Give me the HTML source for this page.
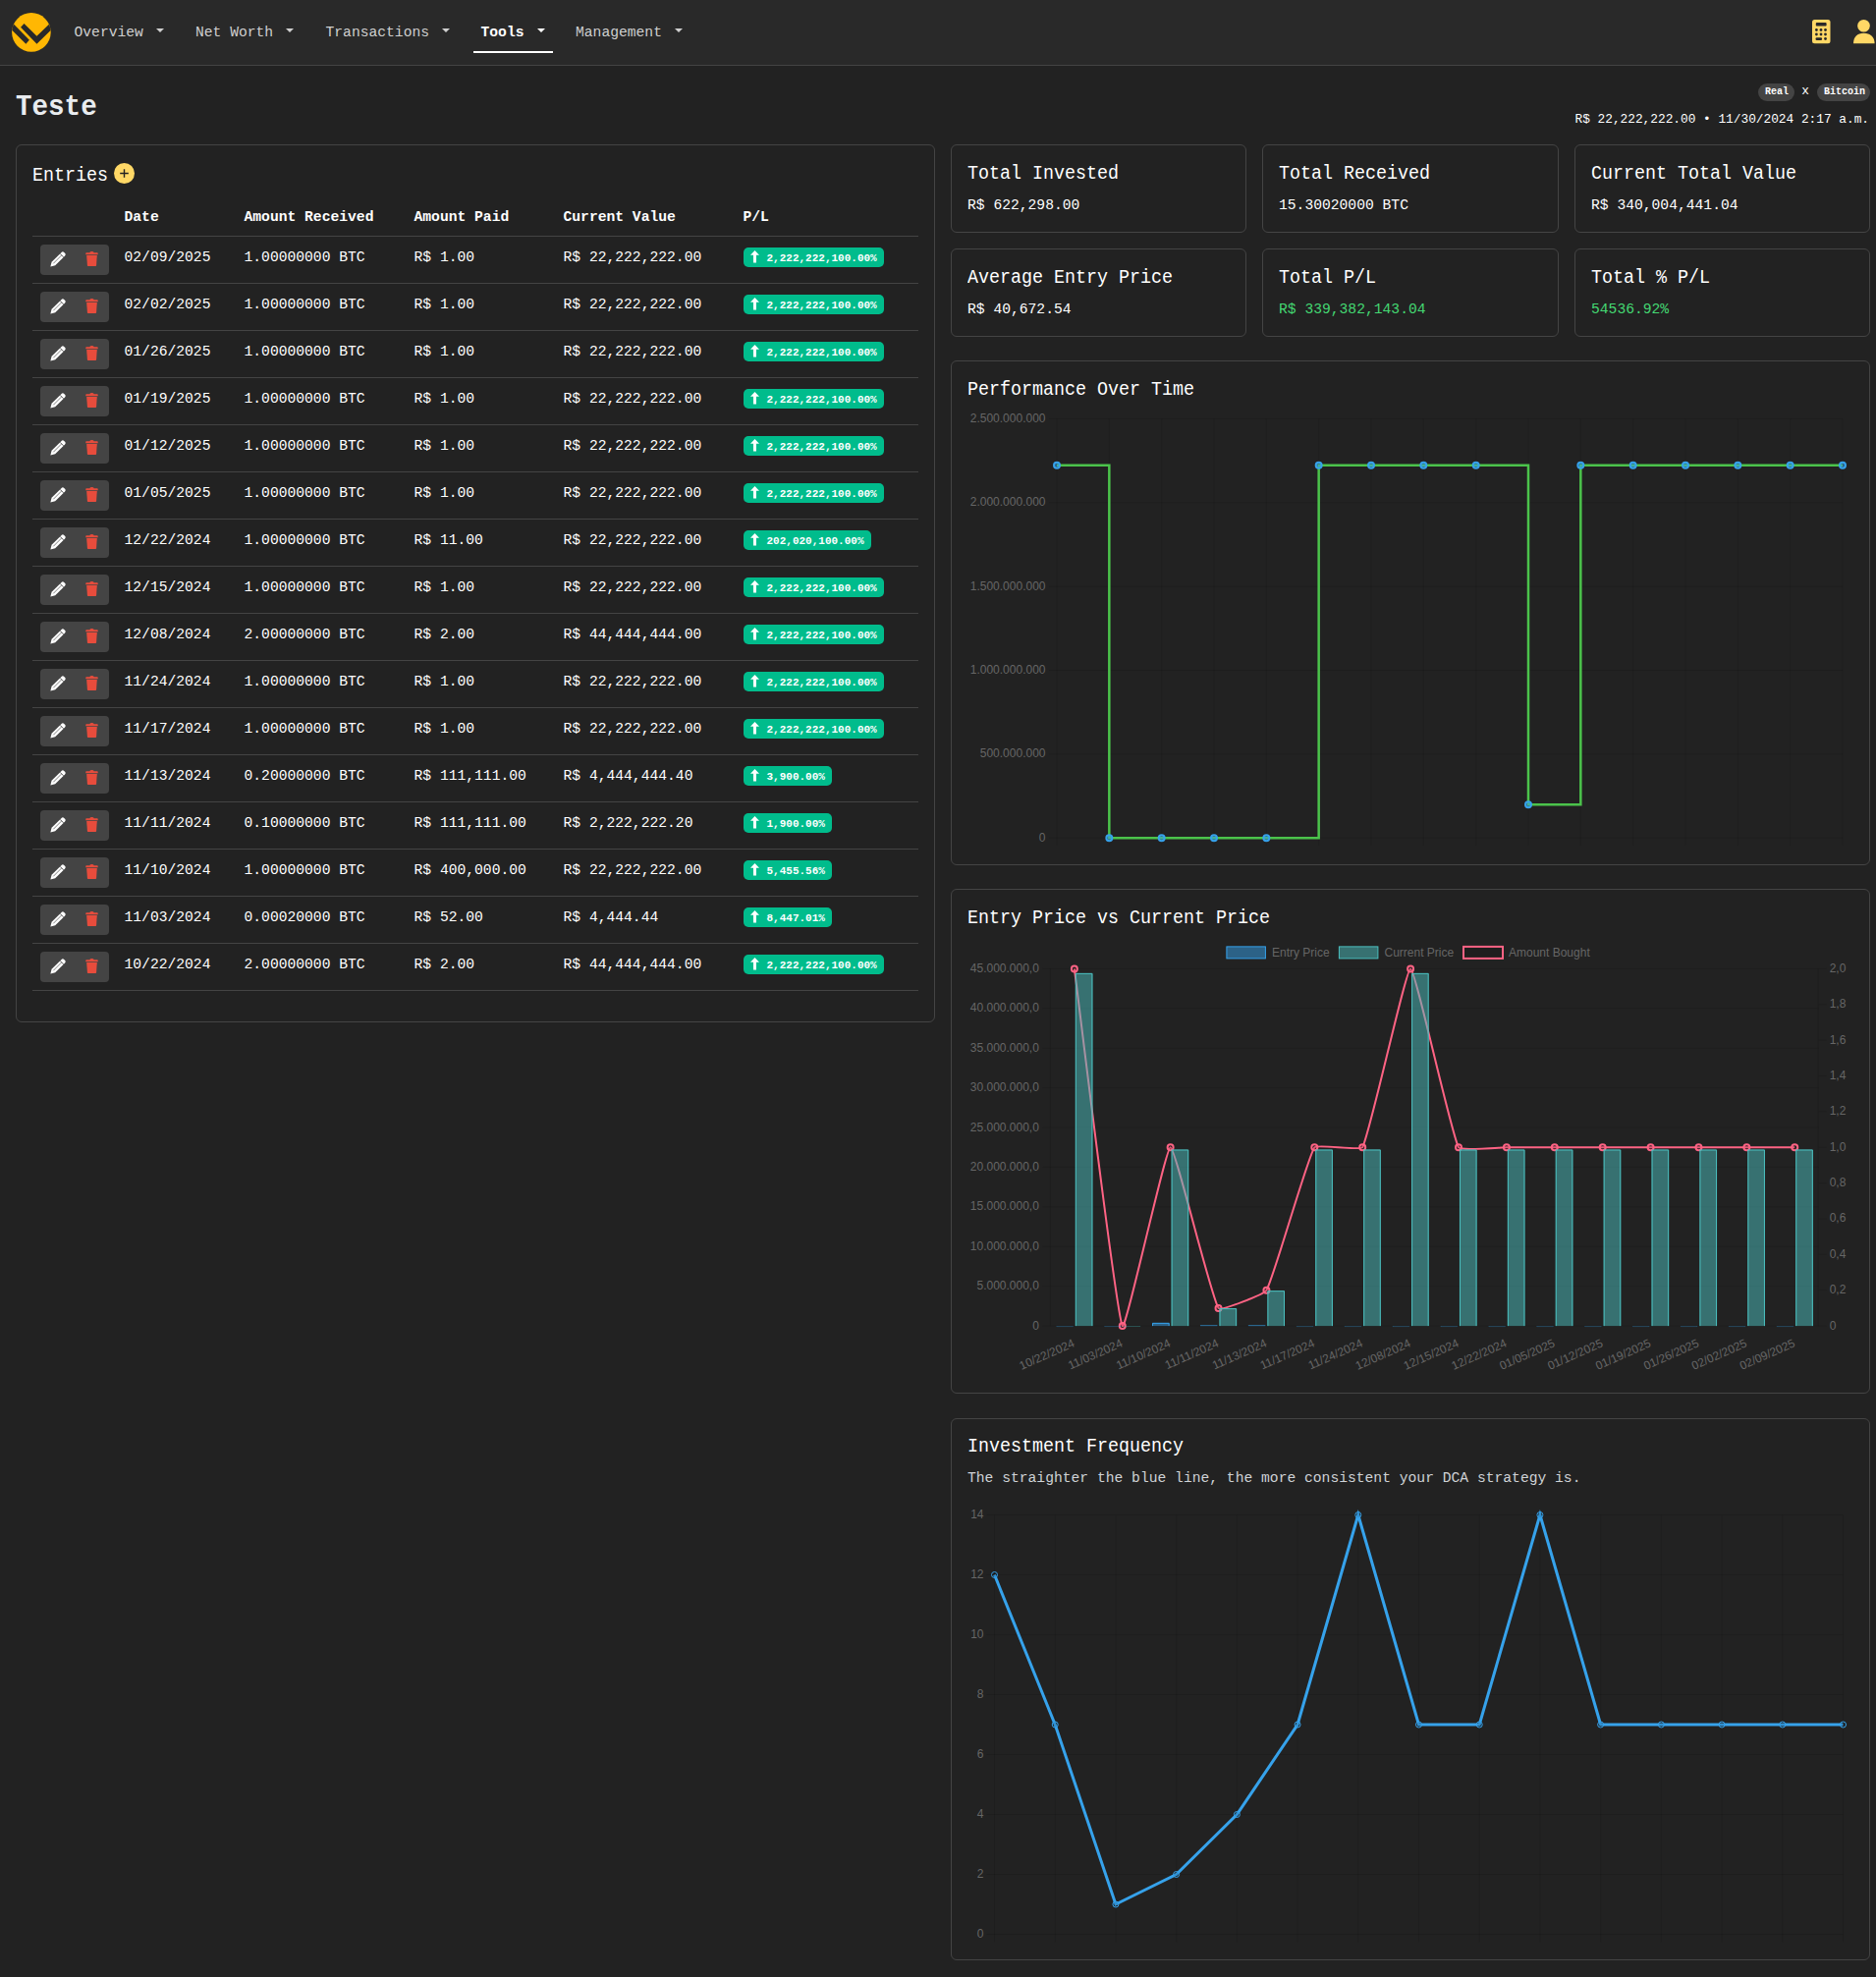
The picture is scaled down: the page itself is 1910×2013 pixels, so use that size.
<!DOCTYPE html>
<html><head><meta charset="utf-8"><title>DCA</title>
<style>
html,body{margin:0;padding:0;background:#222;width:1910px;height:2013px;overflow:hidden;}
body{position:relative;font-family:'Liberation Mono', monospace;}
.t{position:absolute;white-space:pre;}
</style></head><body>
<div style="position:absolute;left:0px;top:0px;width:1910px;height:66px;background:#292929;"></div><div style="position:absolute;left:0px;top:66px;width:1910px;height:1px;background:#444;"></div><svg style="position:absolute;left:8px;top:9px" width="50" height="48" viewBox="0 0 50 48">
<defs><clipPath id="lc"><circle cx="23.9" cy="23.9" r="19.8"/></clipPath></defs>
<circle cx="23.9" cy="23.9" r="19.8" fill="#ffb703"/>
<g clip-path="url(#lc)" fill="#292929">
<polygon points="0,9.45 21.86,31.85 18.39,35.85 -2,15.46"/>
<polygon points="16.52,15.06 29.45,27.72 48,9.76 48,17.69 29.45,35.71 13.06,18.66"/>
</g></svg><div class="t" style="left:75.50px;top:25.76px;font-size:14.67px;line-height:14.67px;color:#cfcfcf;font-family:'Liberation Mono', monospace;">Overview</div><div style="position:absolute;left:159px;top:29px;width:0px;height:0px;border-left:4px solid transparent;border-right:4px solid transparent;border-top:4.5px solid #cfcfcf;"></div><div class="t" style="left:199.00px;top:25.76px;font-size:14.67px;line-height:14.67px;color:#cfcfcf;font-family:'Liberation Mono', monospace;">Net Worth</div><div style="position:absolute;left:291px;top:29px;width:0px;height:0px;border-left:4px solid transparent;border-right:4px solid transparent;border-top:4.5px solid #cfcfcf;"></div><div class="t" style="left:331.50px;top:25.76px;font-size:14.67px;line-height:14.67px;color:#cfcfcf;font-family:'Liberation Mono', monospace;">Transactions</div><div style="position:absolute;left:450px;top:29px;width:0px;height:0px;border-left:4px solid transparent;border-right:4px solid transparent;border-top:4.5px solid #cfcfcf;"></div><div class="t" style="left:586.00px;top:25.76px;font-size:14.67px;line-height:14.67px;color:#cfcfcf;font-family:'Liberation Mono', monospace;">Management</div><div style="position:absolute;left:687px;top:29px;width:0px;height:0px;border-left:4px solid transparent;border-right:4px solid transparent;border-top:4.5px solid #cfcfcf;"></div><div class="t" style="left:489.50px;top:25.76px;font-size:14.67px;line-height:14.67px;color:#fff;font-weight:bold;font-family:'Liberation Mono', monospace;">Tools</div><div style="position:absolute;left:547px;top:29px;width:0px;height:0px;border-left:4px solid transparent;border-right:4px solid transparent;border-top:4.5px solid #fff;"></div><div style="position:absolute;left:482px;top:52px;width:81px;height:2px;background:#fff;"></div><svg style="position:absolute;left:1845px;top:20px" width="19" height="25" viewBox="0 0 19 25">
<rect x="0" y="0" width="18.5" height="24.3" rx="2.5" fill="#ffd866"/>
<rect x="3.8" y="3.1" width="10.8" height="3.5" rx="0.8" fill="#292929"/>
<g fill="#292929">
<circle cx="4.4" cy="10.5" r="1.4"/><circle cx="9" cy="10.5" r="1.4"/><circle cx="13.5" cy="10.5" r="1.4"/>
<circle cx="4.4" cy="15" r="1.4"/><circle cx="9" cy="15" r="1.4"/><circle cx="13.5" cy="15" r="1.4"/>
<rect x="3.5" y="18.2" width="6.6" height="2.8" rx="1.2"/><circle cx="13.5" cy="19.5" r="1.4"/>
</g></svg><svg style="position:absolute;left:1886px;top:19px" width="24" height="26" viewBox="0 0 24 26">
<circle cx="11.5" cy="7.3" r="6.3" fill="#ffd866"/>
<path d="M1 25.2 C1 18.5 5 14.7 11.5 14.7 C18 14.7 22.6 18.5 22.6 25.2 Z" fill="#ffd866"/>
</svg><div class="t" style="left:15.80px;top:94.78px;font-size:29px;line-height:29px;color:#e9ecef;font-weight:bold;font-family:'Liberation Mono', monospace;transform:scaleX(0.95);transform-origin:0 0;">Teste</div><div style="position:absolute;left:1790px;top:85px;width:37px;height:18px;background:#444;border-radius:9px;"></div><div class="t" style="left:1797.00px;top:89.34px;font-size:10px;line-height:10px;color:#fff;font-weight:bold;font-family:'Liberation Mono', monospace;">Real</div><div class="t" style="left:1834.30px;top:87.19px;font-size:12.8px;line-height:12.8px;color:#fff;font-family:'Liberation Mono', monospace;">x</div><div style="position:absolute;left:1850px;top:85px;width:54px;height:18px;background:#444;border-radius:9px;"></div><div class="t" style="left:1857.00px;top:89.34px;font-size:10px;line-height:10px;color:#fff;font-weight:bold;font-family:'Liberation Mono', monospace;">Bitcoin</div><div class="t" style="left:1603.50px;top:115.89px;font-size:12.8px;line-height:12.8px;color:#fff;font-family:'Liberation Mono', monospace;">R$ 22,222,222.00 &bull; 11/30/2024 2:17 a.m.</div><div style="position:absolute;left:16px;top:147px;width:934px;height:892px;border:1px solid #444;border-radius:6px;box-sizing:content-box;"></div><div class="t" style="left:33.00px;top:170.06px;font-size:19.5px;line-height:19.5px;color:#fff;font-family:'Liberation Mono', monospace;transform:scaleX(0.94);transform-origin:0 0;">Entries</div><svg style="position:absolute;left:116px;top:166px" width="22" height="22" viewBox="0 0 22 22">
<circle cx="10.5" cy="10.5" r="10.5" fill="#ffd866"/>
<path d="M10.5 6.2 V14.8 M6.2 10.5 H14.8" stroke="#222" stroke-width="1.4"/>
</svg><div class="t" style="left:126.50px;top:214.06px;font-size:14.67px;line-height:14.67px;color:#fff;font-weight:bold;font-family:'Liberation Mono', monospace;">Date</div><div class="t" style="left:248.50px;top:214.06px;font-size:14.67px;line-height:14.67px;color:#fff;font-weight:bold;font-family:'Liberation Mono', monospace;">Amount Received</div><div class="t" style="left:421.50px;top:214.06px;font-size:14.67px;line-height:14.67px;color:#fff;font-weight:bold;font-family:'Liberation Mono', monospace;">Amount Paid</div><div class="t" style="left:573.50px;top:214.06px;font-size:14.67px;line-height:14.67px;color:#fff;font-weight:bold;font-family:'Liberation Mono', monospace;">Current Value</div><div class="t" style="left:756.50px;top:214.06px;font-size:14.67px;line-height:14.67px;color:#fff;font-weight:bold;font-family:'Liberation Mono', monospace;">P/L</div><div style="position:absolute;left:33px;top:240px;width:902px;height:1px;background:#444;"></div><div style="position:absolute;left:41px;top:249px;width:70px;height:31px;background:#444;border-radius:4px;"></div><svg style="position:absolute;left:50.5px;top:256px" width="16" height="16" viewBox="0 0 16 16"><path d="M11.6 0.9 a1.9 1.9 0 0 1 2.6 0 l0.9 0.9 a1.9 1.9 0 0 1 0 2.6 L5.2 14.3 L0.4 15.5 L1.6 10.7 Z" fill="#fff"/><path d="M10.2 2.4 L13.6 5.8" stroke="#444" stroke-width="0.9"/><path d="M3.3 12.3 L11.4 4.2" stroke="#444" stroke-width="0.9" opacity="0.75"/></svg><svg style="position:absolute;left:86.8px;top:256px" width="13" height="16" viewBox="0 0 13 16"><path d="M0.3 1.9 Q0.3 1.2 1 1.2 L4.3 1.2 Q4.6 0 6.5 0 Q8.4 0 8.7 1.2 L12 1.2 Q12.7 1.2 12.7 1.9 L12.7 3.2 L0.3 3.2 Z" fill="#e74c3c"/><path d="M1.2 4.1 L11.8 4.1 L11.1 14.2 Q11 14.9 10.3 14.9 L2.7 14.9 Q2 14.9 1.9 14.2 Z" fill="#e74c3c"/></svg><div class="t" style="left:126.50px;top:255.36px;font-size:14.67px;line-height:14.67px;color:#fff;font-family:'Liberation Mono', monospace;">02/09/2025</div><div class="t" style="left:248.50px;top:255.36px;font-size:14.67px;line-height:14.67px;color:#fff;font-family:'Liberation Mono', monospace;">1.00000000 BTC</div><div class="t" style="left:421.50px;top:255.36px;font-size:14.67px;line-height:14.67px;color:#fff;font-family:'Liberation Mono', monospace;">R$ 1.00</div><div class="t" style="left:573.50px;top:255.36px;font-size:14.67px;line-height:14.67px;color:#fff;font-family:'Liberation Mono', monospace;">R$ 22,222,222.00</div><div style="position:absolute;left:757px;top:252px;width:143px;height:20px;background:#00bc8c;border-radius:5px;"></div><svg style="position:absolute;left:764px;top:255px" width="10" height="13" viewBox="0 0 10 13"><path d="M4.5 0 L9 4.8 L6 4.8 L6 12.5 L3 12.5 L3 4.8 L0 4.8 Z" fill="#fff"/></svg><div class="t" style="left:780.50px;top:257.57px;font-size:11px;line-height:11px;color:#fff;font-weight:bold;font-family:'Liberation Mono', monospace;">2,222,222,100.00%</div><div style="position:absolute;left:33px;top:288px;width:902px;height:1px;background:#444;"></div><div style="position:absolute;left:41px;top:297px;width:70px;height:31px;background:#444;border-radius:4px;"></div><svg style="position:absolute;left:50.5px;top:304px" width="16" height="16" viewBox="0 0 16 16"><path d="M11.6 0.9 a1.9 1.9 0 0 1 2.6 0 l0.9 0.9 a1.9 1.9 0 0 1 0 2.6 L5.2 14.3 L0.4 15.5 L1.6 10.7 Z" fill="#fff"/><path d="M10.2 2.4 L13.6 5.8" stroke="#444" stroke-width="0.9"/><path d="M3.3 12.3 L11.4 4.2" stroke="#444" stroke-width="0.9" opacity="0.75"/></svg><svg style="position:absolute;left:86.8px;top:304px" width="13" height="16" viewBox="0 0 13 16"><path d="M0.3 1.9 Q0.3 1.2 1 1.2 L4.3 1.2 Q4.6 0 6.5 0 Q8.4 0 8.7 1.2 L12 1.2 Q12.7 1.2 12.7 1.9 L12.7 3.2 L0.3 3.2 Z" fill="#e74c3c"/><path d="M1.2 4.1 L11.8 4.1 L11.1 14.2 Q11 14.9 10.3 14.9 L2.7 14.9 Q2 14.9 1.9 14.2 Z" fill="#e74c3c"/></svg><div class="t" style="left:126.50px;top:303.36px;font-size:14.67px;line-height:14.67px;color:#fff;font-family:'Liberation Mono', monospace;">02/02/2025</div><div class="t" style="left:248.50px;top:303.36px;font-size:14.67px;line-height:14.67px;color:#fff;font-family:'Liberation Mono', monospace;">1.00000000 BTC</div><div class="t" style="left:421.50px;top:303.36px;font-size:14.67px;line-height:14.67px;color:#fff;font-family:'Liberation Mono', monospace;">R$ 1.00</div><div class="t" style="left:573.50px;top:303.36px;font-size:14.67px;line-height:14.67px;color:#fff;font-family:'Liberation Mono', monospace;">R$ 22,222,222.00</div><div style="position:absolute;left:757px;top:300px;width:143px;height:20px;background:#00bc8c;border-radius:5px;"></div><svg style="position:absolute;left:764px;top:303px" width="10" height="13" viewBox="0 0 10 13"><path d="M4.5 0 L9 4.8 L6 4.8 L6 12.5 L3 12.5 L3 4.8 L0 4.8 Z" fill="#fff"/></svg><div class="t" style="left:780.50px;top:305.57px;font-size:11px;line-height:11px;color:#fff;font-weight:bold;font-family:'Liberation Mono', monospace;">2,222,222,100.00%</div><div style="position:absolute;left:33px;top:336px;width:902px;height:1px;background:#444;"></div><div style="position:absolute;left:41px;top:345px;width:70px;height:31px;background:#444;border-radius:4px;"></div><svg style="position:absolute;left:50.5px;top:352px" width="16" height="16" viewBox="0 0 16 16"><path d="M11.6 0.9 a1.9 1.9 0 0 1 2.6 0 l0.9 0.9 a1.9 1.9 0 0 1 0 2.6 L5.2 14.3 L0.4 15.5 L1.6 10.7 Z" fill="#fff"/><path d="M10.2 2.4 L13.6 5.8" stroke="#444" stroke-width="0.9"/><path d="M3.3 12.3 L11.4 4.2" stroke="#444" stroke-width="0.9" opacity="0.75"/></svg><svg style="position:absolute;left:86.8px;top:352px" width="13" height="16" viewBox="0 0 13 16"><path d="M0.3 1.9 Q0.3 1.2 1 1.2 L4.3 1.2 Q4.6 0 6.5 0 Q8.4 0 8.7 1.2 L12 1.2 Q12.7 1.2 12.7 1.9 L12.7 3.2 L0.3 3.2 Z" fill="#e74c3c"/><path d="M1.2 4.1 L11.8 4.1 L11.1 14.2 Q11 14.9 10.3 14.9 L2.7 14.9 Q2 14.9 1.9 14.2 Z" fill="#e74c3c"/></svg><div class="t" style="left:126.50px;top:351.36px;font-size:14.67px;line-height:14.67px;color:#fff;font-family:'Liberation Mono', monospace;">01/26/2025</div><div class="t" style="left:248.50px;top:351.36px;font-size:14.67px;line-height:14.67px;color:#fff;font-family:'Liberation Mono', monospace;">1.00000000 BTC</div><div class="t" style="left:421.50px;top:351.36px;font-size:14.67px;line-height:14.67px;color:#fff;font-family:'Liberation Mono', monospace;">R$ 1.00</div><div class="t" style="left:573.50px;top:351.36px;font-size:14.67px;line-height:14.67px;color:#fff;font-family:'Liberation Mono', monospace;">R$ 22,222,222.00</div><div style="position:absolute;left:757px;top:348px;width:143px;height:20px;background:#00bc8c;border-radius:5px;"></div><svg style="position:absolute;left:764px;top:351px" width="10" height="13" viewBox="0 0 10 13"><path d="M4.5 0 L9 4.8 L6 4.8 L6 12.5 L3 12.5 L3 4.8 L0 4.8 Z" fill="#fff"/></svg><div class="t" style="left:780.50px;top:353.57px;font-size:11px;line-height:11px;color:#fff;font-weight:bold;font-family:'Liberation Mono', monospace;">2,222,222,100.00%</div><div style="position:absolute;left:33px;top:384px;width:902px;height:1px;background:#444;"></div><div style="position:absolute;left:41px;top:393px;width:70px;height:31px;background:#444;border-radius:4px;"></div><svg style="position:absolute;left:50.5px;top:400px" width="16" height="16" viewBox="0 0 16 16"><path d="M11.6 0.9 a1.9 1.9 0 0 1 2.6 0 l0.9 0.9 a1.9 1.9 0 0 1 0 2.6 L5.2 14.3 L0.4 15.5 L1.6 10.7 Z" fill="#fff"/><path d="M10.2 2.4 L13.6 5.8" stroke="#444" stroke-width="0.9"/><path d="M3.3 12.3 L11.4 4.2" stroke="#444" stroke-width="0.9" opacity="0.75"/></svg><svg style="position:absolute;left:86.8px;top:400px" width="13" height="16" viewBox="0 0 13 16"><path d="M0.3 1.9 Q0.3 1.2 1 1.2 L4.3 1.2 Q4.6 0 6.5 0 Q8.4 0 8.7 1.2 L12 1.2 Q12.7 1.2 12.7 1.9 L12.7 3.2 L0.3 3.2 Z" fill="#e74c3c"/><path d="M1.2 4.1 L11.8 4.1 L11.1 14.2 Q11 14.9 10.3 14.9 L2.7 14.9 Q2 14.9 1.9 14.2 Z" fill="#e74c3c"/></svg><div class="t" style="left:126.50px;top:399.36px;font-size:14.67px;line-height:14.67px;color:#fff;font-family:'Liberation Mono', monospace;">01/19/2025</div><div class="t" style="left:248.50px;top:399.36px;font-size:14.67px;line-height:14.67px;color:#fff;font-family:'Liberation Mono', monospace;">1.00000000 BTC</div><div class="t" style="left:421.50px;top:399.36px;font-size:14.67px;line-height:14.67px;color:#fff;font-family:'Liberation Mono', monospace;">R$ 1.00</div><div class="t" style="left:573.50px;top:399.36px;font-size:14.67px;line-height:14.67px;color:#fff;font-family:'Liberation Mono', monospace;">R$ 22,222,222.00</div><div style="position:absolute;left:757px;top:396px;width:143px;height:20px;background:#00bc8c;border-radius:5px;"></div><svg style="position:absolute;left:764px;top:399px" width="10" height="13" viewBox="0 0 10 13"><path d="M4.5 0 L9 4.8 L6 4.8 L6 12.5 L3 12.5 L3 4.8 L0 4.8 Z" fill="#fff"/></svg><div class="t" style="left:780.50px;top:401.57px;font-size:11px;line-height:11px;color:#fff;font-weight:bold;font-family:'Liberation Mono', monospace;">2,222,222,100.00%</div><div style="position:absolute;left:33px;top:432px;width:902px;height:1px;background:#444;"></div><div style="position:absolute;left:41px;top:441px;width:70px;height:31px;background:#444;border-radius:4px;"></div><svg style="position:absolute;left:50.5px;top:448px" width="16" height="16" viewBox="0 0 16 16"><path d="M11.6 0.9 a1.9 1.9 0 0 1 2.6 0 l0.9 0.9 a1.9 1.9 0 0 1 0 2.6 L5.2 14.3 L0.4 15.5 L1.6 10.7 Z" fill="#fff"/><path d="M10.2 2.4 L13.6 5.8" stroke="#444" stroke-width="0.9"/><path d="M3.3 12.3 L11.4 4.2" stroke="#444" stroke-width="0.9" opacity="0.75"/></svg><svg style="position:absolute;left:86.8px;top:448px" width="13" height="16" viewBox="0 0 13 16"><path d="M0.3 1.9 Q0.3 1.2 1 1.2 L4.3 1.2 Q4.6 0 6.5 0 Q8.4 0 8.7 1.2 L12 1.2 Q12.7 1.2 12.7 1.9 L12.7 3.2 L0.3 3.2 Z" fill="#e74c3c"/><path d="M1.2 4.1 L11.8 4.1 L11.1 14.2 Q11 14.9 10.3 14.9 L2.7 14.9 Q2 14.9 1.9 14.2 Z" fill="#e74c3c"/></svg><div class="t" style="left:126.50px;top:447.36px;font-size:14.67px;line-height:14.67px;color:#fff;font-family:'Liberation Mono', monospace;">01/12/2025</div><div class="t" style="left:248.50px;top:447.36px;font-size:14.67px;line-height:14.67px;color:#fff;font-family:'Liberation Mono', monospace;">1.00000000 BTC</div><div class="t" style="left:421.50px;top:447.36px;font-size:14.67px;line-height:14.67px;color:#fff;font-family:'Liberation Mono', monospace;">R$ 1.00</div><div class="t" style="left:573.50px;top:447.36px;font-size:14.67px;line-height:14.67px;color:#fff;font-family:'Liberation Mono', monospace;">R$ 22,222,222.00</div><div style="position:absolute;left:757px;top:444px;width:143px;height:20px;background:#00bc8c;border-radius:5px;"></div><svg style="position:absolute;left:764px;top:447px" width="10" height="13" viewBox="0 0 10 13"><path d="M4.5 0 L9 4.8 L6 4.8 L6 12.5 L3 12.5 L3 4.8 L0 4.8 Z" fill="#fff"/></svg><div class="t" style="left:780.50px;top:449.57px;font-size:11px;line-height:11px;color:#fff;font-weight:bold;font-family:'Liberation Mono', monospace;">2,222,222,100.00%</div><div style="position:absolute;left:33px;top:480px;width:902px;height:1px;background:#444;"></div><div style="position:absolute;left:41px;top:489px;width:70px;height:31px;background:#444;border-radius:4px;"></div><svg style="position:absolute;left:50.5px;top:496px" width="16" height="16" viewBox="0 0 16 16"><path d="M11.6 0.9 a1.9 1.9 0 0 1 2.6 0 l0.9 0.9 a1.9 1.9 0 0 1 0 2.6 L5.2 14.3 L0.4 15.5 L1.6 10.7 Z" fill="#fff"/><path d="M10.2 2.4 L13.6 5.8" stroke="#444" stroke-width="0.9"/><path d="M3.3 12.3 L11.4 4.2" stroke="#444" stroke-width="0.9" opacity="0.75"/></svg><svg style="position:absolute;left:86.8px;top:496px" width="13" height="16" viewBox="0 0 13 16"><path d="M0.3 1.9 Q0.3 1.2 1 1.2 L4.3 1.2 Q4.6 0 6.5 0 Q8.4 0 8.7 1.2 L12 1.2 Q12.7 1.2 12.7 1.9 L12.7 3.2 L0.3 3.2 Z" fill="#e74c3c"/><path d="M1.2 4.1 L11.8 4.1 L11.1 14.2 Q11 14.9 10.3 14.9 L2.7 14.9 Q2 14.9 1.9 14.2 Z" fill="#e74c3c"/></svg><div class="t" style="left:126.50px;top:495.36px;font-size:14.67px;line-height:14.67px;color:#fff;font-family:'Liberation Mono', monospace;">01/05/2025</div><div class="t" style="left:248.50px;top:495.36px;font-size:14.67px;line-height:14.67px;color:#fff;font-family:'Liberation Mono', monospace;">1.00000000 BTC</div><div class="t" style="left:421.50px;top:495.36px;font-size:14.67px;line-height:14.67px;color:#fff;font-family:'Liberation Mono', monospace;">R$ 1.00</div><div class="t" style="left:573.50px;top:495.36px;font-size:14.67px;line-height:14.67px;color:#fff;font-family:'Liberation Mono', monospace;">R$ 22,222,222.00</div><div style="position:absolute;left:757px;top:492px;width:143px;height:20px;background:#00bc8c;border-radius:5px;"></div><svg style="position:absolute;left:764px;top:495px" width="10" height="13" viewBox="0 0 10 13"><path d="M4.5 0 L9 4.8 L6 4.8 L6 12.5 L3 12.5 L3 4.8 L0 4.8 Z" fill="#fff"/></svg><div class="t" style="left:780.50px;top:497.57px;font-size:11px;line-height:11px;color:#fff;font-weight:bold;font-family:'Liberation Mono', monospace;">2,222,222,100.00%</div><div style="position:absolute;left:33px;top:528px;width:902px;height:1px;background:#444;"></div><div style="position:absolute;left:41px;top:537px;width:70px;height:31px;background:#444;border-radius:4px;"></div><svg style="position:absolute;left:50.5px;top:544px" width="16" height="16" viewBox="0 0 16 16"><path d="M11.6 0.9 a1.9 1.9 0 0 1 2.6 0 l0.9 0.9 a1.9 1.9 0 0 1 0 2.6 L5.2 14.3 L0.4 15.5 L1.6 10.7 Z" fill="#fff"/><path d="M10.2 2.4 L13.6 5.8" stroke="#444" stroke-width="0.9"/><path d="M3.3 12.3 L11.4 4.2" stroke="#444" stroke-width="0.9" opacity="0.75"/></svg><svg style="position:absolute;left:86.8px;top:544px" width="13" height="16" viewBox="0 0 13 16"><path d="M0.3 1.9 Q0.3 1.2 1 1.2 L4.3 1.2 Q4.6 0 6.5 0 Q8.4 0 8.7 1.2 L12 1.2 Q12.7 1.2 12.7 1.9 L12.7 3.2 L0.3 3.2 Z" fill="#e74c3c"/><path d="M1.2 4.1 L11.8 4.1 L11.1 14.2 Q11 14.9 10.3 14.9 L2.7 14.9 Q2 14.9 1.9 14.2 Z" fill="#e74c3c"/></svg><div class="t" style="left:126.50px;top:543.36px;font-size:14.67px;line-height:14.67px;color:#fff;font-family:'Liberation Mono', monospace;">12/22/2024</div><div class="t" style="left:248.50px;top:543.36px;font-size:14.67px;line-height:14.67px;color:#fff;font-family:'Liberation Mono', monospace;">1.00000000 BTC</div><div class="t" style="left:421.50px;top:543.36px;font-size:14.67px;line-height:14.67px;color:#fff;font-family:'Liberation Mono', monospace;">R$ 11.00</div><div class="t" style="left:573.50px;top:543.36px;font-size:14.67px;line-height:14.67px;color:#fff;font-family:'Liberation Mono', monospace;">R$ 22,222,222.00</div><div style="position:absolute;left:757px;top:540px;width:130px;height:20px;background:#00bc8c;border-radius:5px;"></div><svg style="position:absolute;left:764px;top:543px" width="10" height="13" viewBox="0 0 10 13"><path d="M4.5 0 L9 4.8 L6 4.8 L6 12.5 L3 12.5 L3 4.8 L0 4.8 Z" fill="#fff"/></svg><div class="t" style="left:780.50px;top:545.57px;font-size:11px;line-height:11px;color:#fff;font-weight:bold;font-family:'Liberation Mono', monospace;">202,020,100.00%</div><div style="position:absolute;left:33px;top:576px;width:902px;height:1px;background:#444;"></div><div style="position:absolute;left:41px;top:585px;width:70px;height:31px;background:#444;border-radius:4px;"></div><svg style="position:absolute;left:50.5px;top:592px" width="16" height="16" viewBox="0 0 16 16"><path d="M11.6 0.9 a1.9 1.9 0 0 1 2.6 0 l0.9 0.9 a1.9 1.9 0 0 1 0 2.6 L5.2 14.3 L0.4 15.5 L1.6 10.7 Z" fill="#fff"/><path d="M10.2 2.4 L13.6 5.8" stroke="#444" stroke-width="0.9"/><path d="M3.3 12.3 L11.4 4.2" stroke="#444" stroke-width="0.9" opacity="0.75"/></svg><svg style="position:absolute;left:86.8px;top:592px" width="13" height="16" viewBox="0 0 13 16"><path d="M0.3 1.9 Q0.3 1.2 1 1.2 L4.3 1.2 Q4.6 0 6.5 0 Q8.4 0 8.7 1.2 L12 1.2 Q12.7 1.2 12.7 1.9 L12.7 3.2 L0.3 3.2 Z" fill="#e74c3c"/><path d="M1.2 4.1 L11.8 4.1 L11.1 14.2 Q11 14.9 10.3 14.9 L2.7 14.9 Q2 14.9 1.9 14.2 Z" fill="#e74c3c"/></svg><div class="t" style="left:126.50px;top:591.36px;font-size:14.67px;line-height:14.67px;color:#fff;font-family:'Liberation Mono', monospace;">12/15/2024</div><div class="t" style="left:248.50px;top:591.36px;font-size:14.67px;line-height:14.67px;color:#fff;font-family:'Liberation Mono', monospace;">1.00000000 BTC</div><div class="t" style="left:421.50px;top:591.36px;font-size:14.67px;line-height:14.67px;color:#fff;font-family:'Liberation Mono', monospace;">R$ 1.00</div><div class="t" style="left:573.50px;top:591.36px;font-size:14.67px;line-height:14.67px;color:#fff;font-family:'Liberation Mono', monospace;">R$ 22,222,222.00</div><div style="position:absolute;left:757px;top:588px;width:143px;height:20px;background:#00bc8c;border-radius:5px;"></div><svg style="position:absolute;left:764px;top:591px" width="10" height="13" viewBox="0 0 10 13"><path d="M4.5 0 L9 4.8 L6 4.8 L6 12.5 L3 12.5 L3 4.8 L0 4.8 Z" fill="#fff"/></svg><div class="t" style="left:780.50px;top:593.57px;font-size:11px;line-height:11px;color:#fff;font-weight:bold;font-family:'Liberation Mono', monospace;">2,222,222,100.00%</div><div style="position:absolute;left:33px;top:624px;width:902px;height:1px;background:#444;"></div><div style="position:absolute;left:41px;top:633px;width:70px;height:31px;background:#444;border-radius:4px;"></div><svg style="position:absolute;left:50.5px;top:640px" width="16" height="16" viewBox="0 0 16 16"><path d="M11.6 0.9 a1.9 1.9 0 0 1 2.6 0 l0.9 0.9 a1.9 1.9 0 0 1 0 2.6 L5.2 14.3 L0.4 15.5 L1.6 10.7 Z" fill="#fff"/><path d="M10.2 2.4 L13.6 5.8" stroke="#444" stroke-width="0.9"/><path d="M3.3 12.3 L11.4 4.2" stroke="#444" stroke-width="0.9" opacity="0.75"/></svg><svg style="position:absolute;left:86.8px;top:640px" width="13" height="16" viewBox="0 0 13 16"><path d="M0.3 1.9 Q0.3 1.2 1 1.2 L4.3 1.2 Q4.6 0 6.5 0 Q8.4 0 8.7 1.2 L12 1.2 Q12.7 1.2 12.7 1.9 L12.7 3.2 L0.3 3.2 Z" fill="#e74c3c"/><path d="M1.2 4.1 L11.8 4.1 L11.1 14.2 Q11 14.9 10.3 14.9 L2.7 14.9 Q2 14.9 1.9 14.2 Z" fill="#e74c3c"/></svg><div class="t" style="left:126.50px;top:639.36px;font-size:14.67px;line-height:14.67px;color:#fff;font-family:'Liberation Mono', monospace;">12/08/2024</div><div class="t" style="left:248.50px;top:639.36px;font-size:14.67px;line-height:14.67px;color:#fff;font-family:'Liberation Mono', monospace;">2.00000000 BTC</div><div class="t" style="left:421.50px;top:639.36px;font-size:14.67px;line-height:14.67px;color:#fff;font-family:'Liberation Mono', monospace;">R$ 2.00</div><div class="t" style="left:573.50px;top:639.36px;font-size:14.67px;line-height:14.67px;color:#fff;font-family:'Liberation Mono', monospace;">R$ 44,444,444.00</div><div style="position:absolute;left:757px;top:636px;width:143px;height:20px;background:#00bc8c;border-radius:5px;"></div><svg style="position:absolute;left:764px;top:639px" width="10" height="13" viewBox="0 0 10 13"><path d="M4.5 0 L9 4.8 L6 4.8 L6 12.5 L3 12.5 L3 4.8 L0 4.8 Z" fill="#fff"/></svg><div class="t" style="left:780.50px;top:641.57px;font-size:11px;line-height:11px;color:#fff;font-weight:bold;font-family:'Liberation Mono', monospace;">2,222,222,100.00%</div><div style="position:absolute;left:33px;top:672px;width:902px;height:1px;background:#444;"></div><div style="position:absolute;left:41px;top:681px;width:70px;height:31px;background:#444;border-radius:4px;"></div><svg style="position:absolute;left:50.5px;top:688px" width="16" height="16" viewBox="0 0 16 16"><path d="M11.6 0.9 a1.9 1.9 0 0 1 2.6 0 l0.9 0.9 a1.9 1.9 0 0 1 0 2.6 L5.2 14.3 L0.4 15.5 L1.6 10.7 Z" fill="#fff"/><path d="M10.2 2.4 L13.6 5.8" stroke="#444" stroke-width="0.9"/><path d="M3.3 12.3 L11.4 4.2" stroke="#444" stroke-width="0.9" opacity="0.75"/></svg><svg style="position:absolute;left:86.8px;top:688px" width="13" height="16" viewBox="0 0 13 16"><path d="M0.3 1.9 Q0.3 1.2 1 1.2 L4.3 1.2 Q4.6 0 6.5 0 Q8.4 0 8.7 1.2 L12 1.2 Q12.7 1.2 12.7 1.9 L12.7 3.2 L0.3 3.2 Z" fill="#e74c3c"/><path d="M1.2 4.1 L11.8 4.1 L11.1 14.2 Q11 14.9 10.3 14.9 L2.7 14.9 Q2 14.9 1.9 14.2 Z" fill="#e74c3c"/></svg><div class="t" style="left:126.50px;top:687.36px;font-size:14.67px;line-height:14.67px;color:#fff;font-family:'Liberation Mono', monospace;">11/24/2024</div><div class="t" style="left:248.50px;top:687.36px;font-size:14.67px;line-height:14.67px;color:#fff;font-family:'Liberation Mono', monospace;">1.00000000 BTC</div><div class="t" style="left:421.50px;top:687.36px;font-size:14.67px;line-height:14.67px;color:#fff;font-family:'Liberation Mono', monospace;">R$ 1.00</div><div class="t" style="left:573.50px;top:687.36px;font-size:14.67px;line-height:14.67px;color:#fff;font-family:'Liberation Mono', monospace;">R$ 22,222,222.00</div><div style="position:absolute;left:757px;top:684px;width:143px;height:20px;background:#00bc8c;border-radius:5px;"></div><svg style="position:absolute;left:764px;top:687px" width="10" height="13" viewBox="0 0 10 13"><path d="M4.5 0 L9 4.8 L6 4.8 L6 12.5 L3 12.5 L3 4.8 L0 4.8 Z" fill="#fff"/></svg><div class="t" style="left:780.50px;top:689.57px;font-size:11px;line-height:11px;color:#fff;font-weight:bold;font-family:'Liberation Mono', monospace;">2,222,222,100.00%</div><div style="position:absolute;left:33px;top:720px;width:902px;height:1px;background:#444;"></div><div style="position:absolute;left:41px;top:729px;width:70px;height:31px;background:#444;border-radius:4px;"></div><svg style="position:absolute;left:50.5px;top:736px" width="16" height="16" viewBox="0 0 16 16"><path d="M11.6 0.9 a1.9 1.9 0 0 1 2.6 0 l0.9 0.9 a1.9 1.9 0 0 1 0 2.6 L5.2 14.3 L0.4 15.5 L1.6 10.7 Z" fill="#fff"/><path d="M10.2 2.4 L13.6 5.8" stroke="#444" stroke-width="0.9"/><path d="M3.3 12.3 L11.4 4.2" stroke="#444" stroke-width="0.9" opacity="0.75"/></svg><svg style="position:absolute;left:86.8px;top:736px" width="13" height="16" viewBox="0 0 13 16"><path d="M0.3 1.9 Q0.3 1.2 1 1.2 L4.3 1.2 Q4.6 0 6.5 0 Q8.4 0 8.7 1.2 L12 1.2 Q12.7 1.2 12.7 1.9 L12.7 3.2 L0.3 3.2 Z" fill="#e74c3c"/><path d="M1.2 4.1 L11.8 4.1 L11.1 14.2 Q11 14.9 10.3 14.9 L2.7 14.9 Q2 14.9 1.9 14.2 Z" fill="#e74c3c"/></svg><div class="t" style="left:126.50px;top:735.36px;font-size:14.67px;line-height:14.67px;color:#fff;font-family:'Liberation Mono', monospace;">11/17/2024</div><div class="t" style="left:248.50px;top:735.36px;font-size:14.67px;line-height:14.67px;color:#fff;font-family:'Liberation Mono', monospace;">1.00000000 BTC</div><div class="t" style="left:421.50px;top:735.36px;font-size:14.67px;line-height:14.67px;color:#fff;font-family:'Liberation Mono', monospace;">R$ 1.00</div><div class="t" style="left:573.50px;top:735.36px;font-size:14.67px;line-height:14.67px;color:#fff;font-family:'Liberation Mono', monospace;">R$ 22,222,222.00</div><div style="position:absolute;left:757px;top:732px;width:143px;height:20px;background:#00bc8c;border-radius:5px;"></div><svg style="position:absolute;left:764px;top:735px" width="10" height="13" viewBox="0 0 10 13"><path d="M4.5 0 L9 4.8 L6 4.8 L6 12.5 L3 12.5 L3 4.8 L0 4.8 Z" fill="#fff"/></svg><div class="t" style="left:780.50px;top:737.57px;font-size:11px;line-height:11px;color:#fff;font-weight:bold;font-family:'Liberation Mono', monospace;">2,222,222,100.00%</div><div style="position:absolute;left:33px;top:768px;width:902px;height:1px;background:#444;"></div><div style="position:absolute;left:41px;top:777px;width:70px;height:31px;background:#444;border-radius:4px;"></div><svg style="position:absolute;left:50.5px;top:784px" width="16" height="16" viewBox="0 0 16 16"><path d="M11.6 0.9 a1.9 1.9 0 0 1 2.6 0 l0.9 0.9 a1.9 1.9 0 0 1 0 2.6 L5.2 14.3 L0.4 15.5 L1.6 10.7 Z" fill="#fff"/><path d="M10.2 2.4 L13.6 5.8" stroke="#444" stroke-width="0.9"/><path d="M3.3 12.3 L11.4 4.2" stroke="#444" stroke-width="0.9" opacity="0.75"/></svg><svg style="position:absolute;left:86.8px;top:784px" width="13" height="16" viewBox="0 0 13 16"><path d="M0.3 1.9 Q0.3 1.2 1 1.2 L4.3 1.2 Q4.6 0 6.5 0 Q8.4 0 8.7 1.2 L12 1.2 Q12.7 1.2 12.7 1.9 L12.7 3.2 L0.3 3.2 Z" fill="#e74c3c"/><path d="M1.2 4.1 L11.8 4.1 L11.1 14.2 Q11 14.9 10.3 14.9 L2.7 14.9 Q2 14.9 1.9 14.2 Z" fill="#e74c3c"/></svg><div class="t" style="left:126.50px;top:783.36px;font-size:14.67px;line-height:14.67px;color:#fff;font-family:'Liberation Mono', monospace;">11/13/2024</div><div class="t" style="left:248.50px;top:783.36px;font-size:14.67px;line-height:14.67px;color:#fff;font-family:'Liberation Mono', monospace;">0.20000000 BTC</div><div class="t" style="left:421.50px;top:783.36px;font-size:14.67px;line-height:14.67px;color:#fff;font-family:'Liberation Mono', monospace;">R$ 111,111.00</div><div class="t" style="left:573.50px;top:783.36px;font-size:14.67px;line-height:14.67px;color:#fff;font-family:'Liberation Mono', monospace;">R$ 4,444,444.40</div><div style="position:absolute;left:757px;top:780px;width:90px;height:20px;background:#00bc8c;border-radius:5px;"></div><svg style="position:absolute;left:764px;top:783px" width="10" height="13" viewBox="0 0 10 13"><path d="M4.5 0 L9 4.8 L6 4.8 L6 12.5 L3 12.5 L3 4.8 L0 4.8 Z" fill="#fff"/></svg><div class="t" style="left:780.50px;top:785.57px;font-size:11px;line-height:11px;color:#fff;font-weight:bold;font-family:'Liberation Mono', monospace;">3,900.00%</div><div style="position:absolute;left:33px;top:816px;width:902px;height:1px;background:#444;"></div><div style="position:absolute;left:41px;top:825px;width:70px;height:31px;background:#444;border-radius:4px;"></div><svg style="position:absolute;left:50.5px;top:832px" width="16" height="16" viewBox="0 0 16 16"><path d="M11.6 0.9 a1.9 1.9 0 0 1 2.6 0 l0.9 0.9 a1.9 1.9 0 0 1 0 2.6 L5.2 14.3 L0.4 15.5 L1.6 10.7 Z" fill="#fff"/><path d="M10.2 2.4 L13.6 5.8" stroke="#444" stroke-width="0.9"/><path d="M3.3 12.3 L11.4 4.2" stroke="#444" stroke-width="0.9" opacity="0.75"/></svg><svg style="position:absolute;left:86.8px;top:832px" width="13" height="16" viewBox="0 0 13 16"><path d="M0.3 1.9 Q0.3 1.2 1 1.2 L4.3 1.2 Q4.6 0 6.5 0 Q8.4 0 8.7 1.2 L12 1.2 Q12.7 1.2 12.7 1.9 L12.7 3.2 L0.3 3.2 Z" fill="#e74c3c"/><path d="M1.2 4.1 L11.8 4.1 L11.1 14.2 Q11 14.9 10.3 14.9 L2.7 14.9 Q2 14.9 1.9 14.2 Z" fill="#e74c3c"/></svg><div class="t" style="left:126.50px;top:831.36px;font-size:14.67px;line-height:14.67px;color:#fff;font-family:'Liberation Mono', monospace;">11/11/2024</div><div class="t" style="left:248.50px;top:831.36px;font-size:14.67px;line-height:14.67px;color:#fff;font-family:'Liberation Mono', monospace;">0.10000000 BTC</div><div class="t" style="left:421.50px;top:831.36px;font-size:14.67px;line-height:14.67px;color:#fff;font-family:'Liberation Mono', monospace;">R$ 111,111.00</div><div class="t" style="left:573.50px;top:831.36px;font-size:14.67px;line-height:14.67px;color:#fff;font-family:'Liberation Mono', monospace;">R$ 2,222,222.20</div><div style="position:absolute;left:757px;top:828px;width:90px;height:20px;background:#00bc8c;border-radius:5px;"></div><svg style="position:absolute;left:764px;top:831px" width="10" height="13" viewBox="0 0 10 13"><path d="M4.5 0 L9 4.8 L6 4.8 L6 12.5 L3 12.5 L3 4.8 L0 4.8 Z" fill="#fff"/></svg><div class="t" style="left:780.50px;top:833.57px;font-size:11px;line-height:11px;color:#fff;font-weight:bold;font-family:'Liberation Mono', monospace;">1,900.00%</div><div style="position:absolute;left:33px;top:864px;width:902px;height:1px;background:#444;"></div><div style="position:absolute;left:41px;top:873px;width:70px;height:31px;background:#444;border-radius:4px;"></div><svg style="position:absolute;left:50.5px;top:880px" width="16" height="16" viewBox="0 0 16 16"><path d="M11.6 0.9 a1.9 1.9 0 0 1 2.6 0 l0.9 0.9 a1.9 1.9 0 0 1 0 2.6 L5.2 14.3 L0.4 15.5 L1.6 10.7 Z" fill="#fff"/><path d="M10.2 2.4 L13.6 5.8" stroke="#444" stroke-width="0.9"/><path d="M3.3 12.3 L11.4 4.2" stroke="#444" stroke-width="0.9" opacity="0.75"/></svg><svg style="position:absolute;left:86.8px;top:880px" width="13" height="16" viewBox="0 0 13 16"><path d="M0.3 1.9 Q0.3 1.2 1 1.2 L4.3 1.2 Q4.6 0 6.5 0 Q8.4 0 8.7 1.2 L12 1.2 Q12.7 1.2 12.7 1.9 L12.7 3.2 L0.3 3.2 Z" fill="#e74c3c"/><path d="M1.2 4.1 L11.8 4.1 L11.1 14.2 Q11 14.9 10.3 14.9 L2.7 14.9 Q2 14.9 1.9 14.2 Z" fill="#e74c3c"/></svg><div class="t" style="left:126.50px;top:879.36px;font-size:14.67px;line-height:14.67px;color:#fff;font-family:'Liberation Mono', monospace;">11/10/2024</div><div class="t" style="left:248.50px;top:879.36px;font-size:14.67px;line-height:14.67px;color:#fff;font-family:'Liberation Mono', monospace;">1.00000000 BTC</div><div class="t" style="left:421.50px;top:879.36px;font-size:14.67px;line-height:14.67px;color:#fff;font-family:'Liberation Mono', monospace;">R$ 400,000.00</div><div class="t" style="left:573.50px;top:879.36px;font-size:14.67px;line-height:14.67px;color:#fff;font-family:'Liberation Mono', monospace;">R$ 22,222,222.00</div><div style="position:absolute;left:757px;top:876px;width:90px;height:20px;background:#00bc8c;border-radius:5px;"></div><svg style="position:absolute;left:764px;top:879px" width="10" height="13" viewBox="0 0 10 13"><path d="M4.5 0 L9 4.8 L6 4.8 L6 12.5 L3 12.5 L3 4.8 L0 4.8 Z" fill="#fff"/></svg><div class="t" style="left:780.50px;top:881.57px;font-size:11px;line-height:11px;color:#fff;font-weight:bold;font-family:'Liberation Mono', monospace;">5,455.56%</div><div style="position:absolute;left:33px;top:912px;width:902px;height:1px;background:#444;"></div><div style="position:absolute;left:41px;top:921px;width:70px;height:31px;background:#444;border-radius:4px;"></div><svg style="position:absolute;left:50.5px;top:928px" width="16" height="16" viewBox="0 0 16 16"><path d="M11.6 0.9 a1.9 1.9 0 0 1 2.6 0 l0.9 0.9 a1.9 1.9 0 0 1 0 2.6 L5.2 14.3 L0.4 15.5 L1.6 10.7 Z" fill="#fff"/><path d="M10.2 2.4 L13.6 5.8" stroke="#444" stroke-width="0.9"/><path d="M3.3 12.3 L11.4 4.2" stroke="#444" stroke-width="0.9" opacity="0.75"/></svg><svg style="position:absolute;left:86.8px;top:928px" width="13" height="16" viewBox="0 0 13 16"><path d="M0.3 1.9 Q0.3 1.2 1 1.2 L4.3 1.2 Q4.6 0 6.5 0 Q8.4 0 8.7 1.2 L12 1.2 Q12.7 1.2 12.7 1.9 L12.7 3.2 L0.3 3.2 Z" fill="#e74c3c"/><path d="M1.2 4.1 L11.8 4.1 L11.1 14.2 Q11 14.9 10.3 14.9 L2.7 14.9 Q2 14.9 1.9 14.2 Z" fill="#e74c3c"/></svg><div class="t" style="left:126.50px;top:927.36px;font-size:14.67px;line-height:14.67px;color:#fff;font-family:'Liberation Mono', monospace;">11/03/2024</div><div class="t" style="left:248.50px;top:927.36px;font-size:14.67px;line-height:14.67px;color:#fff;font-family:'Liberation Mono', monospace;">0.00020000 BTC</div><div class="t" style="left:421.50px;top:927.36px;font-size:14.67px;line-height:14.67px;color:#fff;font-family:'Liberation Mono', monospace;">R$ 52.00</div><div class="t" style="left:573.50px;top:927.36px;font-size:14.67px;line-height:14.67px;color:#fff;font-family:'Liberation Mono', monospace;">R$ 4,444.44</div><div style="position:absolute;left:757px;top:924px;width:90px;height:20px;background:#00bc8c;border-radius:5px;"></div><svg style="position:absolute;left:764px;top:927px" width="10" height="13" viewBox="0 0 10 13"><path d="M4.5 0 L9 4.8 L6 4.8 L6 12.5 L3 12.5 L3 4.8 L0 4.8 Z" fill="#fff"/></svg><div class="t" style="left:780.50px;top:929.57px;font-size:11px;line-height:11px;color:#fff;font-weight:bold;font-family:'Liberation Mono', monospace;">8,447.01%</div><div style="position:absolute;left:33px;top:960px;width:902px;height:1px;background:#444;"></div><div style="position:absolute;left:41px;top:969px;width:70px;height:31px;background:#444;border-radius:4px;"></div><svg style="position:absolute;left:50.5px;top:976px" width="16" height="16" viewBox="0 0 16 16"><path d="M11.6 0.9 a1.9 1.9 0 0 1 2.6 0 l0.9 0.9 a1.9 1.9 0 0 1 0 2.6 L5.2 14.3 L0.4 15.5 L1.6 10.7 Z" fill="#fff"/><path d="M10.2 2.4 L13.6 5.8" stroke="#444" stroke-width="0.9"/><path d="M3.3 12.3 L11.4 4.2" stroke="#444" stroke-width="0.9" opacity="0.75"/></svg><svg style="position:absolute;left:86.8px;top:976px" width="13" height="16" viewBox="0 0 13 16"><path d="M0.3 1.9 Q0.3 1.2 1 1.2 L4.3 1.2 Q4.6 0 6.5 0 Q8.4 0 8.7 1.2 L12 1.2 Q12.7 1.2 12.7 1.9 L12.7 3.2 L0.3 3.2 Z" fill="#e74c3c"/><path d="M1.2 4.1 L11.8 4.1 L11.1 14.2 Q11 14.9 10.3 14.9 L2.7 14.9 Q2 14.9 1.9 14.2 Z" fill="#e74c3c"/></svg><div class="t" style="left:126.50px;top:975.36px;font-size:14.67px;line-height:14.67px;color:#fff;font-family:'Liberation Mono', monospace;">10/22/2024</div><div class="t" style="left:248.50px;top:975.36px;font-size:14.67px;line-height:14.67px;color:#fff;font-family:'Liberation Mono', monospace;">2.00000000 BTC</div><div class="t" style="left:421.50px;top:975.36px;font-size:14.67px;line-height:14.67px;color:#fff;font-family:'Liberation Mono', monospace;">R$ 2.00</div><div class="t" style="left:573.50px;top:975.36px;font-size:14.67px;line-height:14.67px;color:#fff;font-family:'Liberation Mono', monospace;">R$ 44,444,444.00</div><div style="position:absolute;left:757px;top:972px;width:143px;height:20px;background:#00bc8c;border-radius:5px;"></div><svg style="position:absolute;left:764px;top:975px" width="10" height="13" viewBox="0 0 10 13"><path d="M4.5 0 L9 4.8 L6 4.8 L6 12.5 L3 12.5 L3 4.8 L0 4.8 Z" fill="#fff"/></svg><div class="t" style="left:780.50px;top:977.57px;font-size:11px;line-height:11px;color:#fff;font-weight:bold;font-family:'Liberation Mono', monospace;">2,222,222,100.00%</div><div style="position:absolute;left:33px;top:1008px;width:902px;height:1px;background:#444;"></div><div style="position:absolute;left:968px;top:147px;width:299px;height:88px;border:1px solid #444;border-radius:6px;box-sizing:content-box;"></div><div class="t" style="left:985.00px;top:168.16px;font-size:19.5px;line-height:19.5px;color:#fff;font-family:'Liberation Mono', monospace;transform:scaleX(0.94);transform-origin:0 0;">Total Invested</div><div class="t" style="left:985.00px;top:201.76px;font-size:14.67px;line-height:14.67px;color:#fff;font-family:'Liberation Mono', monospace;">R$ 622,298.00</div><div style="position:absolute;left:1285px;top:147px;width:300px;height:88px;border:1px solid #444;border-radius:6px;box-sizing:content-box;"></div><div class="t" style="left:1302.00px;top:168.16px;font-size:19.5px;line-height:19.5px;color:#fff;font-family:'Liberation Mono', monospace;transform:scaleX(0.94);transform-origin:0 0;">Total Received</div><div class="t" style="left:1302.00px;top:201.76px;font-size:14.67px;line-height:14.67px;color:#fff;font-family:'Liberation Mono', monospace;">15.30020000 BTC</div><div style="position:absolute;left:1603px;top:147px;width:299px;height:88px;border:1px solid #444;border-radius:6px;box-sizing:content-box;"></div><div class="t" style="left:1620.00px;top:168.16px;font-size:19.5px;line-height:19.5px;color:#fff;font-family:'Liberation Mono', monospace;transform:scaleX(0.94);transform-origin:0 0;">Current Total Value</div><div class="t" style="left:1620.00px;top:201.76px;font-size:14.67px;line-height:14.67px;color:#fff;font-family:'Liberation Mono', monospace;">R$ 340,004,441.04</div><div style="position:absolute;left:968px;top:253px;width:299px;height:88px;border:1px solid #444;border-radius:6px;box-sizing:content-box;"></div><div class="t" style="left:985.00px;top:273.96px;font-size:19.5px;line-height:19.5px;color:#fff;font-family:'Liberation Mono', monospace;transform:scaleX(0.94);transform-origin:0 0;">Average Entry Price</div><div class="t" style="left:985.00px;top:307.56px;font-size:14.67px;line-height:14.67px;color:#fff;font-family:'Liberation Mono', monospace;">R$ 40,672.54</div><div style="position:absolute;left:1285px;top:253px;width:300px;height:88px;border:1px solid #444;border-radius:6px;box-sizing:content-box;"></div><div class="t" style="left:1302.00px;top:273.96px;font-size:19.5px;line-height:19.5px;color:#fff;font-family:'Liberation Mono', monospace;transform:scaleX(0.94);transform-origin:0 0;">Total P/L</div><div class="t" style="left:1302.00px;top:307.56px;font-size:14.67px;line-height:14.67px;color:#44d872;font-family:'Liberation Mono', monospace;">R$ 339,382,143.04</div><div style="position:absolute;left:1603px;top:253px;width:299px;height:88px;border:1px solid #444;border-radius:6px;box-sizing:content-box;"></div><div class="t" style="left:1620.00px;top:273.96px;font-size:19.5px;line-height:19.5px;color:#fff;font-family:'Liberation Mono', monospace;transform:scaleX(0.94);transform-origin:0 0;">Total % P/L</div><div class="t" style="left:1620.00px;top:307.56px;font-size:14.67px;line-height:14.67px;color:#44d872;font-family:'Liberation Mono', monospace;">54536.92%</div><div style="position:absolute;left:968px;top:367px;width:934px;height:512px;border:1px solid #444;border-radius:6px;box-sizing:content-box;"></div><div class="t" style="left:985.00px;top:387.66px;font-size:19.5px;line-height:19.5px;color:#fff;font-family:'Liberation Mono', monospace;transform:scaleX(0.94);transform-origin:0 0;">Performance Over Time</div><div style="position:absolute;left:968px;top:905px;width:934px;height:512px;border:1px solid #444;border-radius:6px;box-sizing:content-box;"></div><div class="t" style="left:985.00px;top:926.06px;font-size:19.5px;line-height:19.5px;color:#fff;font-family:'Liberation Mono', monospace;transform:scaleX(0.94);transform-origin:0 0;">Entry Price vs Current Price</div><div style="position:absolute;left:968px;top:1444px;width:934px;height:550px;border:1px solid #444;border-radius:6px;box-sizing:content-box;"></div><div class="t" style="left:985.00px;top:1463.86px;font-size:19.5px;line-height:19.5px;color:#fff;font-family:'Liberation Mono', monospace;transform:scaleX(0.94);transform-origin:0 0;">Investment Frequency</div><div class="t" style="left:985.00px;top:1498.06px;font-size:14.67px;line-height:14.67px;color:#cfd2d6;font-family:'Liberation Mono', monospace;">The straighter the blue line, the more consistent your DCA strategy is.</div>
<svg style="position:absolute;left:0;top:0" width="1910" height="2013" viewBox="0 0 1910 2013">
<line x1="1068" y1="426.40" x2="1876.0" y2="426.40" stroke="rgba(0,0,0,0.1)" stroke-width="1"/>
<text x="1064.5" y="429.90" text-anchor="end" font-family="Liberation Sans, sans-serif" font-size="12" fill="#666">2.500.000.000</text>
<line x1="1068" y1="511.78" x2="1876.0" y2="511.78" stroke="rgba(0,0,0,0.1)" stroke-width="1"/>
<text x="1064.5" y="515.28" text-anchor="end" font-family="Liberation Sans, sans-serif" font-size="12" fill="#666">2.000.000.000</text>
<line x1="1068" y1="597.16" x2="1876.0" y2="597.16" stroke="rgba(0,0,0,0.1)" stroke-width="1"/>
<text x="1064.5" y="600.66" text-anchor="end" font-family="Liberation Sans, sans-serif" font-size="12" fill="#666">1.500.000.000</text>
<line x1="1068" y1="682.54" x2="1876.0" y2="682.54" stroke="rgba(0,0,0,0.1)" stroke-width="1"/>
<text x="1064.5" y="686.04" text-anchor="end" font-family="Liberation Sans, sans-serif" font-size="12" fill="#666">1.000.000.000</text>
<line x1="1068" y1="767.92" x2="1876.0" y2="767.92" stroke="rgba(0,0,0,0.1)" stroke-width="1"/>
<text x="1064.5" y="771.42" text-anchor="end" font-family="Liberation Sans, sans-serif" font-size="12" fill="#666">500.000.000</text>
<line x1="1068" y1="853.30" x2="1876.0" y2="853.30" stroke="rgba(0,0,0,0.1)" stroke-width="1"/>
<text x="1064.5" y="856.80" text-anchor="end" font-family="Liberation Sans, sans-serif" font-size="12" fill="#666">0</text>
<line x1="1076.00" y1="426.4" x2="1076.00" y2="861" stroke="rgba(0,0,0,0.1)" stroke-width="1"/>
<line x1="1129.33" y1="426.4" x2="1129.33" y2="861" stroke="rgba(0,0,0,0.1)" stroke-width="1"/>
<line x1="1182.67" y1="426.4" x2="1182.67" y2="861" stroke="rgba(0,0,0,0.1)" stroke-width="1"/>
<line x1="1236.00" y1="426.4" x2="1236.00" y2="861" stroke="rgba(0,0,0,0.1)" stroke-width="1"/>
<line x1="1289.33" y1="426.4" x2="1289.33" y2="861" stroke="rgba(0,0,0,0.1)" stroke-width="1"/>
<line x1="1342.67" y1="426.4" x2="1342.67" y2="861" stroke="rgba(0,0,0,0.1)" stroke-width="1"/>
<line x1="1396.00" y1="426.4" x2="1396.00" y2="861" stroke="rgba(0,0,0,0.1)" stroke-width="1"/>
<line x1="1449.33" y1="426.4" x2="1449.33" y2="861" stroke="rgba(0,0,0,0.1)" stroke-width="1"/>
<line x1="1502.67" y1="426.4" x2="1502.67" y2="861" stroke="rgba(0,0,0,0.1)" stroke-width="1"/>
<line x1="1556.00" y1="426.4" x2="1556.00" y2="861" stroke="rgba(0,0,0,0.1)" stroke-width="1"/>
<line x1="1609.33" y1="426.4" x2="1609.33" y2="861" stroke="rgba(0,0,0,0.1)" stroke-width="1"/>
<line x1="1662.67" y1="426.4" x2="1662.67" y2="861" stroke="rgba(0,0,0,0.1)" stroke-width="1"/>
<line x1="1716.00" y1="426.4" x2="1716.00" y2="861" stroke="rgba(0,0,0,0.1)" stroke-width="1"/>
<line x1="1769.33" y1="426.4" x2="1769.33" y2="861" stroke="rgba(0,0,0,0.1)" stroke-width="1"/>
<line x1="1822.67" y1="426.4" x2="1822.67" y2="861" stroke="rgba(0,0,0,0.1)" stroke-width="1"/>
<line x1="1876.00" y1="426.4" x2="1876.00" y2="861" stroke="rgba(0,0,0,0.1)" stroke-width="1"/>
<path d="M1076.00 473.84 L1129.33 473.84 L1129.33 853.30 L1182.67 853.30 L1182.67 853.30 L1236.00 853.30 L1236.00 853.30 L1289.33 853.30 L1289.33 853.30 L1342.67 853.30 L1342.67 473.84 L1396.00 473.84 L1396.00 473.84 L1449.33 473.84 L1449.33 473.84 L1502.67 473.84 L1502.67 473.84 L1556.00 473.84 L1556.00 819.15 L1609.33 819.15 L1609.33 473.84 L1662.67 473.84 L1662.67 473.84 L1716.00 473.84 L1716.00 473.84 L1769.33 473.84 L1769.33 473.84 L1822.67 473.84 L1822.67 473.84 L1876.00 473.84 L1876.00 473.84" fill="none" stroke="#4bc34b" stroke-width="2.5" stroke-linejoin="miter"/>
<circle cx="1076.00" cy="473.84" r="3" fill="rgba(54,162,235,0.5)" stroke="#36a2eb" stroke-width="2"/>
<circle cx="1129.33" cy="853.30" r="3" fill="rgba(54,162,235,0.5)" stroke="#36a2eb" stroke-width="2"/>
<circle cx="1182.67" cy="853.30" r="3" fill="rgba(54,162,235,0.5)" stroke="#36a2eb" stroke-width="2"/>
<circle cx="1236.00" cy="853.30" r="3" fill="rgba(54,162,235,0.5)" stroke="#36a2eb" stroke-width="2"/>
<circle cx="1289.33" cy="853.30" r="3" fill="rgba(54,162,235,0.5)" stroke="#36a2eb" stroke-width="2"/>
<circle cx="1342.67" cy="473.84" r="3" fill="rgba(54,162,235,0.5)" stroke="#36a2eb" stroke-width="2"/>
<circle cx="1396.00" cy="473.84" r="3" fill="rgba(54,162,235,0.5)" stroke="#36a2eb" stroke-width="2"/>
<circle cx="1449.33" cy="473.84" r="3" fill="rgba(54,162,235,0.5)" stroke="#36a2eb" stroke-width="2"/>
<circle cx="1502.67" cy="473.84" r="3" fill="rgba(54,162,235,0.5)" stroke="#36a2eb" stroke-width="2"/>
<circle cx="1556.00" cy="819.15" r="3" fill="rgba(54,162,235,0.5)" stroke="#36a2eb" stroke-width="2"/>
<circle cx="1609.33" cy="473.84" r="3" fill="rgba(54,162,235,0.5)" stroke="#36a2eb" stroke-width="2"/>
<circle cx="1662.67" cy="473.84" r="3" fill="rgba(54,162,235,0.5)" stroke="#36a2eb" stroke-width="2"/>
<circle cx="1716.00" cy="473.84" r="3" fill="rgba(54,162,235,0.5)" stroke="#36a2eb" stroke-width="2"/>
<circle cx="1769.33" cy="473.84" r="3" fill="rgba(54,162,235,0.5)" stroke="#36a2eb" stroke-width="2"/>
<circle cx="1822.67" cy="473.84" r="3" fill="rgba(54,162,235,0.5)" stroke="#36a2eb" stroke-width="2"/>
<circle cx="1876.00" cy="473.84" r="3" fill="rgba(54,162,235,0.5)" stroke="#36a2eb" stroke-width="2"/>
<line x1="1061.4" y1="1350.10" x2="1851.7" y2="1350.10" stroke="rgba(0,0,0,0.1)" stroke-width="1"/>
<text x="1057.9" y="1353.60" text-anchor="end" font-family="Liberation Sans, sans-serif" font-size="12" fill="#666">0</text>
<line x1="1061.4" y1="1309.69" x2="1851.7" y2="1309.69" stroke="rgba(0,0,0,0.1)" stroke-width="1"/>
<text x="1057.9" y="1313.19" text-anchor="end" font-family="Liberation Sans, sans-serif" font-size="12" fill="#666">5.000.000,0</text>
<line x1="1061.4" y1="1269.28" x2="1851.7" y2="1269.28" stroke="rgba(0,0,0,0.1)" stroke-width="1"/>
<text x="1057.9" y="1272.78" text-anchor="end" font-family="Liberation Sans, sans-serif" font-size="12" fill="#666">10.000.000,0</text>
<line x1="1061.4" y1="1228.87" x2="1851.7" y2="1228.87" stroke="rgba(0,0,0,0.1)" stroke-width="1"/>
<text x="1057.9" y="1232.37" text-anchor="end" font-family="Liberation Sans, sans-serif" font-size="12" fill="#666">15.000.000,0</text>
<line x1="1061.4" y1="1188.46" x2="1851.7" y2="1188.46" stroke="rgba(0,0,0,0.1)" stroke-width="1"/>
<text x="1057.9" y="1191.96" text-anchor="end" font-family="Liberation Sans, sans-serif" font-size="12" fill="#666">20.000.000,0</text>
<line x1="1061.4" y1="1148.04" x2="1851.7" y2="1148.04" stroke="rgba(0,0,0,0.1)" stroke-width="1"/>
<text x="1057.9" y="1151.54" text-anchor="end" font-family="Liberation Sans, sans-serif" font-size="12" fill="#666">25.000.000,0</text>
<line x1="1061.4" y1="1107.63" x2="1851.7" y2="1107.63" stroke="rgba(0,0,0,0.1)" stroke-width="1"/>
<text x="1057.9" y="1111.13" text-anchor="end" font-family="Liberation Sans, sans-serif" font-size="12" fill="#666">30.000.000,0</text>
<line x1="1061.4" y1="1067.22" x2="1851.7" y2="1067.22" stroke="rgba(0,0,0,0.1)" stroke-width="1"/>
<text x="1057.9" y="1070.72" text-anchor="end" font-family="Liberation Sans, sans-serif" font-size="12" fill="#666">35.000.000,0</text>
<line x1="1061.4" y1="1026.81" x2="1851.7" y2="1026.81" stroke="rgba(0,0,0,0.1)" stroke-width="1"/>
<text x="1057.9" y="1030.31" text-anchor="end" font-family="Liberation Sans, sans-serif" font-size="12" fill="#666">40.000.000,0</text>
<line x1="1061.4" y1="986.40" x2="1851.7" y2="986.40" stroke="rgba(0,0,0,0.1)" stroke-width="1"/>
<text x="1057.9" y="989.90" text-anchor="end" font-family="Liberation Sans, sans-serif" font-size="12" fill="#666">45.000.000,0</text>
<line x1="1851.7" y1="1350.10" x2="1859.7" y2="1350.10" stroke="rgba(0,0,0,0.1)" stroke-width="1"/>
<text x="1862.7" y="1353.60" text-anchor="start" font-family="Liberation Sans, sans-serif" font-size="12" fill="#666">0</text>
<line x1="1851.7" y1="1313.73" x2="1859.7" y2="1313.73" stroke="rgba(0,0,0,0.1)" stroke-width="1"/>
<text x="1862.7" y="1317.23" text-anchor="start" font-family="Liberation Sans, sans-serif" font-size="12" fill="#666">0,2</text>
<line x1="1851.7" y1="1277.36" x2="1859.7" y2="1277.36" stroke="rgba(0,0,0,0.1)" stroke-width="1"/>
<text x="1862.7" y="1280.86" text-anchor="start" font-family="Liberation Sans, sans-serif" font-size="12" fill="#666">0,4</text>
<line x1="1851.7" y1="1240.99" x2="1859.7" y2="1240.99" stroke="rgba(0,0,0,0.1)" stroke-width="1"/>
<text x="1862.7" y="1244.49" text-anchor="start" font-family="Liberation Sans, sans-serif" font-size="12" fill="#666">0,6</text>
<line x1="1851.7" y1="1204.62" x2="1859.7" y2="1204.62" stroke="rgba(0,0,0,0.1)" stroke-width="1"/>
<text x="1862.7" y="1208.12" text-anchor="start" font-family="Liberation Sans, sans-serif" font-size="12" fill="#666">0,8</text>
<line x1="1851.7" y1="1168.25" x2="1859.7" y2="1168.25" stroke="rgba(0,0,0,0.1)" stroke-width="1"/>
<text x="1862.7" y="1171.75" text-anchor="start" font-family="Liberation Sans, sans-serif" font-size="12" fill="#666">1,0</text>
<line x1="1851.7" y1="1131.88" x2="1859.7" y2="1131.88" stroke="rgba(0,0,0,0.1)" stroke-width="1"/>
<text x="1862.7" y="1135.38" text-anchor="start" font-family="Liberation Sans, sans-serif" font-size="12" fill="#666">1,2</text>
<line x1="1851.7" y1="1095.51" x2="1859.7" y2="1095.51" stroke="rgba(0,0,0,0.1)" stroke-width="1"/>
<text x="1862.7" y="1099.01" text-anchor="start" font-family="Liberation Sans, sans-serif" font-size="12" fill="#666">1,4</text>
<line x1="1851.7" y1="1059.14" x2="1859.7" y2="1059.14" stroke="rgba(0,0,0,0.1)" stroke-width="1"/>
<text x="1862.7" y="1062.64" text-anchor="start" font-family="Liberation Sans, sans-serif" font-size="12" fill="#666">1,6</text>
<line x1="1851.7" y1="1022.77" x2="1859.7" y2="1022.77" stroke="rgba(0,0,0,0.1)" stroke-width="1"/>
<text x="1862.7" y="1026.27" text-anchor="start" font-family="Liberation Sans, sans-serif" font-size="12" fill="#666">1,8</text>
<line x1="1851.7" y1="986.40" x2="1859.7" y2="986.40" stroke="rgba(0,0,0,0.1)" stroke-width="1"/>
<text x="1862.7" y="989.90" text-anchor="start" font-family="Liberation Sans, sans-serif" font-size="12" fill="#666">2,0</text>
<line x1="1069.4" y1="986.4" x2="1069.4" y2="1350.1" stroke="rgba(0,0,0,0.1)" stroke-width="1"/>
<line x1="1851.2" y1="986.4" x2="1851.2" y2="1350.1" stroke="rgba(0,0,0,0.1)" stroke-width="1"/>
<path d="M1093.85 986.40 C1098.74 1022.77 1136.28 1338.05 1142.74 1350.06 C1146.06 1356.23 1186.51 1169.20 1191.63 1168.25 C1196.29 1167.39 1233.04 1320.77 1240.53 1331.91 C1242.82 1335.32 1286.94 1317.88 1289.42 1313.73 C1296.72 1301.52 1330.90 1179.28 1338.32 1168.25 C1340.68 1164.74 1385.19 1172.00 1387.21 1168.25 C1394.97 1153.81 1431.21 986.40 1436.10 986.40 C1440.99 986.40 1477.23 1153.81 1485.00 1168.25 C1487.01 1172.00 1529.00 1168.25 1533.89 1168.25 C1538.78 1168.25 1577.90 1168.25 1582.78 1168.25 C1587.67 1168.25 1626.79 1168.25 1631.68 1168.25 C1636.57 1168.25 1675.68 1168.25 1680.57 1168.25 C1685.46 1168.25 1724.58 1168.25 1729.47 1168.25 C1734.36 1168.25 1773.47 1168.25 1778.36 1168.25 C1783.25 1168.25 1822.36 1168.25 1827.25 1168.25" fill="none" stroke="#ff6384" stroke-width="2"/>
<circle cx="1093.85" cy="986.40" r="3" fill="rgba(0,0,0,0.1)" stroke="#ff6384" stroke-width="2"/>
<circle cx="1142.74" cy="1350.06" r="3" fill="rgba(0,0,0,0.1)" stroke="#ff6384" stroke-width="2"/>
<circle cx="1191.63" cy="1168.25" r="3" fill="rgba(0,0,0,0.1)" stroke="#ff6384" stroke-width="2"/>
<circle cx="1240.53" cy="1331.91" r="3" fill="rgba(0,0,0,0.1)" stroke="#ff6384" stroke-width="2"/>
<circle cx="1289.42" cy="1313.73" r="3" fill="rgba(0,0,0,0.1)" stroke="#ff6384" stroke-width="2"/>
<circle cx="1338.32" cy="1168.25" r="3" fill="rgba(0,0,0,0.1)" stroke="#ff6384" stroke-width="2"/>
<circle cx="1387.21" cy="1168.25" r="3" fill="rgba(0,0,0,0.1)" stroke="#ff6384" stroke-width="2"/>
<circle cx="1436.10" cy="986.40" r="3" fill="rgba(0,0,0,0.1)" stroke="#ff6384" stroke-width="2"/>
<circle cx="1485.00" cy="1168.25" r="3" fill="rgba(0,0,0,0.1)" stroke="#ff6384" stroke-width="2"/>
<circle cx="1533.89" cy="1168.25" r="3" fill="rgba(0,0,0,0.1)" stroke="#ff6384" stroke-width="2"/>
<circle cx="1582.78" cy="1168.25" r="3" fill="rgba(0,0,0,0.1)" stroke="#ff6384" stroke-width="2"/>
<circle cx="1631.68" cy="1168.25" r="3" fill="rgba(0,0,0,0.1)" stroke="#ff6384" stroke-width="2"/>
<circle cx="1680.57" cy="1168.25" r="3" fill="rgba(0,0,0,0.1)" stroke="#ff6384" stroke-width="2"/>
<circle cx="1729.47" cy="1168.25" r="3" fill="rgba(0,0,0,0.1)" stroke="#ff6384" stroke-width="2"/>
<circle cx="1778.36" cy="1168.25" r="3" fill="rgba(0,0,0,0.1)" stroke="#ff6384" stroke-width="2"/>
<circle cx="1827.25" cy="1168.25" r="3" fill="rgba(0,0,0,0.1)" stroke="#ff6384" stroke-width="2"/>
<rect x="1075.27" y="1350.10" width="17.60" height="0.00" fill="rgba(54,162,235,0.5)"/>
<path d="M1075.77 1350.10 V1350.60 H1092.37 V1350.10" fill="none" stroke="#36a2eb" stroke-width="1" opacity="0.3"/>
<rect x="1094.82" y="990.89" width="17.60" height="359.21" fill="rgba(75,192,192,0.5)"/>
<path d="M1095.32 1350.10 V991.39 H1111.93 V1350.10" fill="none" stroke="#4bc0c0" stroke-width="1" opacity="1"/>
<rect x="1124.16" y="1350.10" width="17.60" height="0.00" fill="rgba(54,162,235,0.5)"/>
<path d="M1124.66 1350.10 V1350.60 H1141.26 V1350.10" fill="none" stroke="#36a2eb" stroke-width="1" opacity="0.3"/>
<rect x="1143.72" y="1350.06" width="17.60" height="0.04" fill="rgba(75,192,192,0.5)"/>
<path d="M1144.22 1350.10 V1350.56 H1160.82 V1350.10" fill="none" stroke="#4bc0c0" stroke-width="1" opacity="0.3"/>
<rect x="1173.05" y="1346.87" width="17.60" height="3.23" fill="rgba(54,162,235,0.5)"/>
<path d="M1173.55 1350.10 V1347.37 H1190.16 V1350.10" fill="none" stroke="#36a2eb" stroke-width="1" opacity="1"/>
<rect x="1192.61" y="1170.50" width="17.60" height="179.60" fill="rgba(75,192,192,0.5)"/>
<path d="M1193.11 1350.10 V1171.00 H1209.71 V1350.10" fill="none" stroke="#4bc0c0" stroke-width="1" opacity="1"/>
<rect x="1221.95" y="1349.20" width="17.60" height="0.90" fill="rgba(54,162,235,0.5)"/>
<path d="M1222.45 1350.10 V1349.70 H1239.05 V1350.10" fill="none" stroke="#36a2eb" stroke-width="1" opacity="0.3"/>
<rect x="1241.51" y="1332.14" width="17.60" height="17.96" fill="rgba(75,192,192,0.5)"/>
<path d="M1242.01 1350.10 V1332.64 H1258.61 V1350.10" fill="none" stroke="#4bc0c0" stroke-width="1" opacity="1"/>
<rect x="1270.84" y="1349.20" width="17.60" height="0.90" fill="rgba(54,162,235,0.5)"/>
<path d="M1271.34 1350.10 V1349.70 H1287.94 V1350.10" fill="none" stroke="#36a2eb" stroke-width="1" opacity="0.3"/>
<rect x="1290.40" y="1314.18" width="17.60" height="35.92" fill="rgba(75,192,192,0.5)"/>
<path d="M1290.90 1350.10 V1314.68 H1307.50 V1350.10" fill="none" stroke="#4bc0c0" stroke-width="1" opacity="1"/>
<rect x="1319.74" y="1350.10" width="17.60" height="0.00" fill="rgba(54,162,235,0.5)"/>
<path d="M1320.24 1350.10 V1350.60 H1336.84 V1350.10" fill="none" stroke="#36a2eb" stroke-width="1" opacity="0.3"/>
<rect x="1339.29" y="1170.50" width="17.60" height="179.60" fill="rgba(75,192,192,0.5)"/>
<path d="M1339.79 1350.10 V1171.00 H1356.40 V1350.10" fill="none" stroke="#4bc0c0" stroke-width="1" opacity="1"/>
<rect x="1368.63" y="1350.10" width="17.60" height="0.00" fill="rgba(54,162,235,0.5)"/>
<path d="M1369.13 1350.10 V1350.60 H1385.73 V1350.10" fill="none" stroke="#36a2eb" stroke-width="1" opacity="0.3"/>
<rect x="1388.19" y="1170.50" width="17.60" height="179.60" fill="rgba(75,192,192,0.5)"/>
<path d="M1388.69 1350.10 V1171.00 H1405.29 V1350.10" fill="none" stroke="#4bc0c0" stroke-width="1" opacity="1"/>
<rect x="1417.52" y="1350.10" width="17.60" height="0.00" fill="rgba(54,162,235,0.5)"/>
<path d="M1418.02 1350.10 V1350.60 H1434.63 V1350.10" fill="none" stroke="#36a2eb" stroke-width="1" opacity="0.3"/>
<rect x="1437.08" y="990.89" width="17.60" height="359.21" fill="rgba(75,192,192,0.5)"/>
<path d="M1437.58 1350.10 V991.39 H1454.18 V1350.10" fill="none" stroke="#4bc0c0" stroke-width="1" opacity="1"/>
<rect x="1466.42" y="1350.10" width="17.60" height="0.00" fill="rgba(54,162,235,0.5)"/>
<path d="M1466.92 1350.10 V1350.60 H1483.52 V1350.10" fill="none" stroke="#36a2eb" stroke-width="1" opacity="0.3"/>
<rect x="1485.97" y="1170.50" width="17.60" height="179.60" fill="rgba(75,192,192,0.5)"/>
<path d="M1486.47 1350.10 V1171.00 H1503.08 V1350.10" fill="none" stroke="#4bc0c0" stroke-width="1" opacity="1"/>
<rect x="1515.31" y="1350.10" width="17.60" height="0.00" fill="rgba(54,162,235,0.5)"/>
<path d="M1515.81 1350.10 V1350.60 H1532.41 V1350.10" fill="none" stroke="#36a2eb" stroke-width="1" opacity="0.3"/>
<rect x="1534.87" y="1170.50" width="17.60" height="179.60" fill="rgba(75,192,192,0.5)"/>
<path d="M1535.37 1350.10 V1171.00 H1551.97 V1350.10" fill="none" stroke="#4bc0c0" stroke-width="1" opacity="1"/>
<rect x="1564.20" y="1350.10" width="17.60" height="0.00" fill="rgba(54,162,235,0.5)"/>
<path d="M1564.70 1350.10 V1350.60 H1581.31 V1350.10" fill="none" stroke="#36a2eb" stroke-width="1" opacity="0.3"/>
<rect x="1583.76" y="1170.50" width="17.60" height="179.60" fill="rgba(75,192,192,0.5)"/>
<path d="M1584.26 1350.10 V1171.00 H1600.86 V1350.10" fill="none" stroke="#4bc0c0" stroke-width="1" opacity="1"/>
<rect x="1613.10" y="1350.10" width="17.60" height="0.00" fill="rgba(54,162,235,0.5)"/>
<path d="M1613.60 1350.10 V1350.60 H1630.20 V1350.10" fill="none" stroke="#36a2eb" stroke-width="1" opacity="0.3"/>
<rect x="1632.66" y="1170.50" width="17.60" height="179.60" fill="rgba(75,192,192,0.5)"/>
<path d="M1633.16 1350.10 V1171.00 H1649.76 V1350.10" fill="none" stroke="#4bc0c0" stroke-width="1" opacity="1"/>
<rect x="1661.99" y="1350.10" width="17.60" height="0.00" fill="rgba(54,162,235,0.5)"/>
<path d="M1662.49 1350.10 V1350.60 H1679.09 V1350.10" fill="none" stroke="#36a2eb" stroke-width="1" opacity="0.3"/>
<rect x="1681.55" y="1170.50" width="17.60" height="179.60" fill="rgba(75,192,192,0.5)"/>
<path d="M1682.05 1350.10 V1171.00 H1698.65 V1350.10" fill="none" stroke="#4bc0c0" stroke-width="1" opacity="1"/>
<rect x="1710.89" y="1350.10" width="17.60" height="0.00" fill="rgba(54,162,235,0.5)"/>
<path d="M1711.39 1350.10 V1350.60 H1727.99 V1350.10" fill="none" stroke="#36a2eb" stroke-width="1" opacity="0.3"/>
<rect x="1730.44" y="1170.50" width="17.60" height="179.60" fill="rgba(75,192,192,0.5)"/>
<path d="M1730.94 1350.10 V1171.00 H1747.55 V1350.10" fill="none" stroke="#4bc0c0" stroke-width="1" opacity="1"/>
<rect x="1759.78" y="1350.10" width="17.60" height="0.00" fill="rgba(54,162,235,0.5)"/>
<path d="M1760.28 1350.10 V1350.60 H1776.88 V1350.10" fill="none" stroke="#36a2eb" stroke-width="1" opacity="0.3"/>
<rect x="1779.34" y="1170.50" width="17.60" height="179.60" fill="rgba(75,192,192,0.5)"/>
<path d="M1779.84 1350.10 V1171.00 H1796.44 V1350.10" fill="none" stroke="#4bc0c0" stroke-width="1" opacity="1"/>
<rect x="1808.67" y="1350.10" width="17.60" height="0.00" fill="rgba(54,162,235,0.5)"/>
<path d="M1809.17 1350.10 V1350.60 H1825.78 V1350.10" fill="none" stroke="#36a2eb" stroke-width="1" opacity="0.3"/>
<rect x="1828.23" y="1170.50" width="17.60" height="179.60" fill="rgba(75,192,192,0.5)"/>
<path d="M1828.73 1350.10 V1171.00 H1845.33 V1350.10" fill="none" stroke="#4bc0c0" stroke-width="1" opacity="1"/>
<text transform="translate(1091.35,1362.5) rotate(-24)" x="0" y="0" dominant-baseline="hanging" text-anchor="end" font-family="Liberation Sans, sans-serif" font-size="12" fill="#666">10/22/2024</text>
<text transform="translate(1140.24,1362.5) rotate(-24)" x="0" y="0" dominant-baseline="hanging" text-anchor="end" font-family="Liberation Sans, sans-serif" font-size="12" fill="#666">11/03/2024</text>
<text transform="translate(1189.13,1362.5) rotate(-24)" x="0" y="0" dominant-baseline="hanging" text-anchor="end" font-family="Liberation Sans, sans-serif" font-size="12" fill="#666">11/10/2024</text>
<text transform="translate(1238.03,1362.5) rotate(-24)" x="0" y="0" dominant-baseline="hanging" text-anchor="end" font-family="Liberation Sans, sans-serif" font-size="12" fill="#666">11/11/2024</text>
<text transform="translate(1286.92,1362.5) rotate(-24)" x="0" y="0" dominant-baseline="hanging" text-anchor="end" font-family="Liberation Sans, sans-serif" font-size="12" fill="#666">11/13/2024</text>
<text transform="translate(1335.82,1362.5) rotate(-24)" x="0" y="0" dominant-baseline="hanging" text-anchor="end" font-family="Liberation Sans, sans-serif" font-size="12" fill="#666">11/17/2024</text>
<text transform="translate(1384.71,1362.5) rotate(-24)" x="0" y="0" dominant-baseline="hanging" text-anchor="end" font-family="Liberation Sans, sans-serif" font-size="12" fill="#666">11/24/2024</text>
<text transform="translate(1433.60,1362.5) rotate(-24)" x="0" y="0" dominant-baseline="hanging" text-anchor="end" font-family="Liberation Sans, sans-serif" font-size="12" fill="#666">12/08/2024</text>
<text transform="translate(1482.50,1362.5) rotate(-24)" x="0" y="0" dominant-baseline="hanging" text-anchor="end" font-family="Liberation Sans, sans-serif" font-size="12" fill="#666">12/15/2024</text>
<text transform="translate(1531.39,1362.5) rotate(-24)" x="0" y="0" dominant-baseline="hanging" text-anchor="end" font-family="Liberation Sans, sans-serif" font-size="12" fill="#666">12/22/2024</text>
<text transform="translate(1580.28,1362.5) rotate(-24)" x="0" y="0" dominant-baseline="hanging" text-anchor="end" font-family="Liberation Sans, sans-serif" font-size="12" fill="#666">01/05/2025</text>
<text transform="translate(1629.18,1362.5) rotate(-24)" x="0" y="0" dominant-baseline="hanging" text-anchor="end" font-family="Liberation Sans, sans-serif" font-size="12" fill="#666">01/12/2025</text>
<text transform="translate(1678.07,1362.5) rotate(-24)" x="0" y="0" dominant-baseline="hanging" text-anchor="end" font-family="Liberation Sans, sans-serif" font-size="12" fill="#666">01/19/2025</text>
<text transform="translate(1726.97,1362.5) rotate(-24)" x="0" y="0" dominant-baseline="hanging" text-anchor="end" font-family="Liberation Sans, sans-serif" font-size="12" fill="#666">01/26/2025</text>
<text transform="translate(1775.86,1362.5) rotate(-24)" x="0" y="0" dominant-baseline="hanging" text-anchor="end" font-family="Liberation Sans, sans-serif" font-size="12" fill="#666">02/02/2025</text>
<text transform="translate(1824.75,1362.5) rotate(-24)" x="0" y="0" dominant-baseline="hanging" text-anchor="end" font-family="Liberation Sans, sans-serif" font-size="12" fill="#666">02/09/2025</text>
<rect x="1248.9" y="963.9" width="39.5" height="12" fill="rgba(54,162,235,0.5)" stroke="#36a2eb" stroke-width="1"/>
<text x="1295" y="973.5" font-family="Liberation Sans, sans-serif" font-size="12" fill="#666">Entry Price</text>
<rect x="1363.4" y="963.9" width="39.5" height="12" fill="rgba(75,192,192,0.5)" stroke="#4bc0c0" stroke-width="1"/>
<text x="1409.5" y="973.5" font-family="Liberation Sans, sans-serif" font-size="12" fill="#666">Current Price</text>
<rect x="1490" y="963.9" width="40" height="12" fill="rgba(0,0,0,0.1)" stroke="#ff6384" stroke-width="2"/>
<text x="1536" y="973.5" font-family="Liberation Sans, sans-serif" font-size="12" fill="#666">Amount Bought</text>
<line x1="1004.5" y1="1969.50" x2="1876.5" y2="1969.50" stroke="rgba(0,0,0,0.1)" stroke-width="1"/>
<text x="1001.5" y="1973.00" text-anchor="end" font-family="Liberation Sans, sans-serif" font-size="12" fill="#666">0</text>
<line x1="1004.5" y1="1908.50" x2="1876.5" y2="1908.50" stroke="rgba(0,0,0,0.1)" stroke-width="1"/>
<text x="1001.5" y="1912.00" text-anchor="end" font-family="Liberation Sans, sans-serif" font-size="12" fill="#666">2</text>
<line x1="1004.5" y1="1847.50" x2="1876.5" y2="1847.50" stroke="rgba(0,0,0,0.1)" stroke-width="1"/>
<text x="1001.5" y="1851.00" text-anchor="end" font-family="Liberation Sans, sans-serif" font-size="12" fill="#666">4</text>
<line x1="1004.5" y1="1786.50" x2="1876.5" y2="1786.50" stroke="rgba(0,0,0,0.1)" stroke-width="1"/>
<text x="1001.5" y="1790.00" text-anchor="end" font-family="Liberation Sans, sans-serif" font-size="12" fill="#666">6</text>
<line x1="1004.5" y1="1725.50" x2="1876.5" y2="1725.50" stroke="rgba(0,0,0,0.1)" stroke-width="1"/>
<text x="1001.5" y="1729.00" text-anchor="end" font-family="Liberation Sans, sans-serif" font-size="12" fill="#666">8</text>
<line x1="1004.5" y1="1664.50" x2="1876.5" y2="1664.50" stroke="rgba(0,0,0,0.1)" stroke-width="1"/>
<text x="1001.5" y="1668.00" text-anchor="end" font-family="Liberation Sans, sans-serif" font-size="12" fill="#666">10</text>
<line x1="1004.5" y1="1603.50" x2="1876.5" y2="1603.50" stroke="rgba(0,0,0,0.1)" stroke-width="1"/>
<text x="1001.5" y="1607.00" text-anchor="end" font-family="Liberation Sans, sans-serif" font-size="12" fill="#666">12</text>
<line x1="1004.5" y1="1542.50" x2="1876.5" y2="1542.50" stroke="rgba(0,0,0,0.1)" stroke-width="1"/>
<text x="1001.5" y="1546.00" text-anchor="end" font-family="Liberation Sans, sans-serif" font-size="12" fill="#666">14</text>
<line x1="1012.50" y1="1542.5" x2="1012.50" y2="1977.5" stroke="rgba(0,0,0,0.1)" stroke-width="1"/>
<line x1="1074.21" y1="1542.5" x2="1074.21" y2="1977.5" stroke="rgba(0,0,0,0.1)" stroke-width="1"/>
<line x1="1135.93" y1="1542.5" x2="1135.93" y2="1977.5" stroke="rgba(0,0,0,0.1)" stroke-width="1"/>
<line x1="1197.64" y1="1542.5" x2="1197.64" y2="1977.5" stroke="rgba(0,0,0,0.1)" stroke-width="1"/>
<line x1="1259.36" y1="1542.5" x2="1259.36" y2="1977.5" stroke="rgba(0,0,0,0.1)" stroke-width="1"/>
<line x1="1321.07" y1="1542.5" x2="1321.07" y2="1977.5" stroke="rgba(0,0,0,0.1)" stroke-width="1"/>
<line x1="1382.79" y1="1542.5" x2="1382.79" y2="1977.5" stroke="rgba(0,0,0,0.1)" stroke-width="1"/>
<line x1="1444.50" y1="1542.5" x2="1444.50" y2="1977.5" stroke="rgba(0,0,0,0.1)" stroke-width="1"/>
<line x1="1506.21" y1="1542.5" x2="1506.21" y2="1977.5" stroke="rgba(0,0,0,0.1)" stroke-width="1"/>
<line x1="1567.93" y1="1542.5" x2="1567.93" y2="1977.5" stroke="rgba(0,0,0,0.1)" stroke-width="1"/>
<line x1="1629.64" y1="1542.5" x2="1629.64" y2="1977.5" stroke="rgba(0,0,0,0.1)" stroke-width="1"/>
<line x1="1691.36" y1="1542.5" x2="1691.36" y2="1977.5" stroke="rgba(0,0,0,0.1)" stroke-width="1"/>
<line x1="1753.07" y1="1542.5" x2="1753.07" y2="1977.5" stroke="rgba(0,0,0,0.1)" stroke-width="1"/>
<line x1="1814.79" y1="1542.5" x2="1814.79" y2="1977.5" stroke="rgba(0,0,0,0.1)" stroke-width="1"/>
<line x1="1876.50" y1="1542.5" x2="1876.50" y2="1977.5" stroke="rgba(0,0,0,0.1)" stroke-width="1"/>
<path d="M1012.50 1603.50 L1074.21 1756.00 L1135.93 1939.00 L1197.64 1908.50 L1259.36 1847.50 L1321.07 1756.00 L1382.79 1542.50 L1444.50 1756.00 L1506.21 1756.00 L1567.93 1542.50 L1629.64 1756.00 L1691.36 1756.00 L1753.07 1756.00 L1814.79 1756.00 L1876.50 1756.00" fill="none" stroke="#36a2eb" stroke-width="3" stroke-linejoin="miter"/>
<circle cx="1012.50" cy="1603.50" r="3" fill="rgba(0,0,0,0.1)" stroke="#36a2eb" stroke-width="1"/>
<circle cx="1074.21" cy="1756.00" r="3" fill="rgba(0,0,0,0.1)" stroke="#36a2eb" stroke-width="1"/>
<circle cx="1135.93" cy="1939.00" r="3" fill="rgba(0,0,0,0.1)" stroke="#36a2eb" stroke-width="1"/>
<circle cx="1197.64" cy="1908.50" r="3" fill="rgba(0,0,0,0.1)" stroke="#36a2eb" stroke-width="1"/>
<circle cx="1259.36" cy="1847.50" r="3" fill="rgba(0,0,0,0.1)" stroke="#36a2eb" stroke-width="1"/>
<circle cx="1321.07" cy="1756.00" r="3" fill="rgba(0,0,0,0.1)" stroke="#36a2eb" stroke-width="1"/>
<circle cx="1382.79" cy="1542.50" r="3" fill="rgba(0,0,0,0.1)" stroke="#36a2eb" stroke-width="1"/>
<circle cx="1444.50" cy="1756.00" r="3" fill="rgba(0,0,0,0.1)" stroke="#36a2eb" stroke-width="1"/>
<circle cx="1506.21" cy="1756.00" r="3" fill="rgba(0,0,0,0.1)" stroke="#36a2eb" stroke-width="1"/>
<circle cx="1567.93" cy="1542.50" r="3" fill="rgba(0,0,0,0.1)" stroke="#36a2eb" stroke-width="1"/>
<circle cx="1629.64" cy="1756.00" r="3" fill="rgba(0,0,0,0.1)" stroke="#36a2eb" stroke-width="1"/>
<circle cx="1691.36" cy="1756.00" r="3" fill="rgba(0,0,0,0.1)" stroke="#36a2eb" stroke-width="1"/>
<circle cx="1753.07" cy="1756.00" r="3" fill="rgba(0,0,0,0.1)" stroke="#36a2eb" stroke-width="1"/>
<circle cx="1814.79" cy="1756.00" r="3" fill="rgba(0,0,0,0.1)" stroke="#36a2eb" stroke-width="1"/>
<circle cx="1876.50" cy="1756.00" r="3" fill="rgba(0,0,0,0.1)" stroke="#36a2eb" stroke-width="1"/>
</svg>
</body></html>
